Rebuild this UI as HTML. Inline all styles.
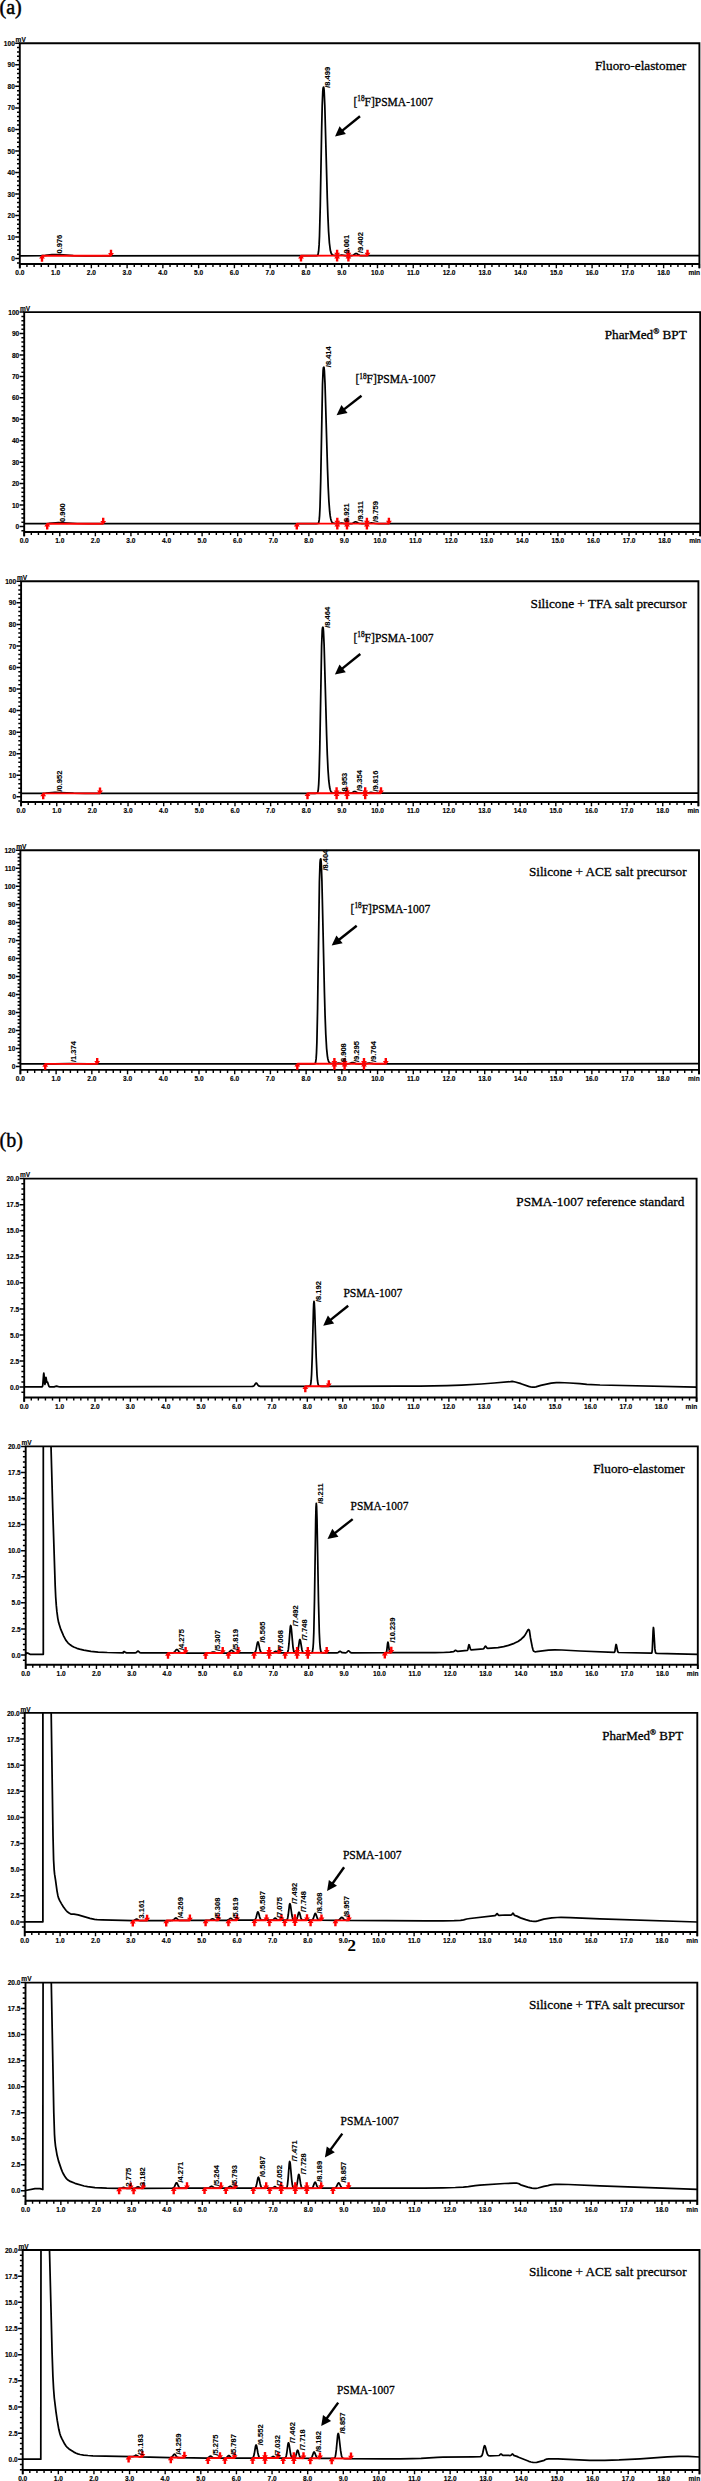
<!DOCTYPE html><html><head><meta charset="utf-8"><style>html,body{margin:0;padding:0;background:#fff;overflow:hidden} svg{display:block} .ax{font-family:'Liberation Sans', sans-serif;font-size:7.3px;font-weight:bold;stroke:#000;stroke-width:0.15px} .ti{font-family:'Liberation Serif', serif;stroke:#000;stroke-width:0.3px} .pl{font-family:'Liberation Sans', sans-serif;font-size:7.5px;font-weight:bold;stroke:#000;stroke-width:0.1px}</style></head><body>
<svg width="701" height="2481" viewBox="0 0 701 2481">
<rect width="701" height="2481" fill="#fff"/>
<defs><clipPath id="c1"><rect x="19.8" y="43.3" width="679.6" height="220.7"/></clipPath><clipPath id="c2"><rect x="24.2" y="312.1" width="676.0" height="219.89999999999998"/></clipPath><clipPath id="c3"><rect x="21.1" y="581.3" width="677.3" height="220.70000000000005"/></clipPath><clipPath id="c4"><rect x="20.4" y="850.3" width="678.6" height="219.60000000000014"/></clipPath><clipPath id="c5"><rect x="24.2" y="1178.6" width="672.4" height="218.9000000000001"/></clipPath><clipPath id="c6"><rect x="25.7" y="1446.4" width="672.0999999999999" height="218.29999999999995"/></clipPath><clipPath id="c7"><rect x="24.7" y="1712.9" width="672.5999999999999" height="219.0999999999999"/></clipPath><clipPath id="c8"><rect x="25.5" y="1982.6" width="671.8" height="218.0999999999999"/></clipPath><clipPath id="c9"><rect x="22.7" y="2250.0" width="676.8" height="220.0"/></clipPath></defs>
<text x="-0.5" y="13.8" font-family="'Liberation Serif', serif" font-size="20" stroke="#000" stroke-width="0.5">(a)</text>
<text x="-0.5" y="1147" font-family="'Liberation Serif', serif" font-size="20" stroke="#000" stroke-width="0.4">(b)</text>
<text x="347.5" y="1950.7" font-family="'Liberation Serif', serif" font-size="17" font-weight="bold">2</text>
<path d="M19.8,255.8 L41.3,255.7 L45.3,255.4 L52.0,254.7 L54.7,254.6 L59.7,254.7 L73.3,255.6 L84.8,255.8 L315.3,255.7 L316.8,255.6 L317.3,255.5 L317.7,255.1 L318.1,254.1 L318.6,251.2 L319.1,244.9 L319.5,236.0 L320.3,205.0 L321.6,132.2 L322.2,105.7 L322.8,91.2 L323.1,88.3 L323.3,87.5 L323.6,87.1 L323.9,88.2 L324.2,91.8 L324.8,105.5 L327.3,198.4 L327.9,216.1 L328.6,231.6 L329.4,243.0 L330.3,250.0 L330.8,252.1 L331.3,253.5 L331.8,254.3 L332.8,255.0 L334.3,255.4 L336.9,255.5 L338.9,255.5 L341.8,255.0 L345.3,255.6 L351.5,255.6 L352.4,255.5 L353.2,255.2 L355.3,253.7 L356.1,253.5 L357.0,253.7 L358.7,254.9 L359.7,255.4 L360.9,255.6 L362.8,255.6 L699.4,255.5" fill="none" stroke="#000" stroke-width="1.75" stroke-linejoin="round" clip-path="url(#c1)"/>
<path d="M19.80,268.30V43.30H699.40V268.30M19.80,264.00H699.40" fill="none" stroke="#000" stroke-width="1.9"/>
<text transform="translate(14.80,261.20) scale(0.9,1)" text-anchor="end" class="ax">0</text>
<text transform="translate(14.80,239.67) scale(0.9,1)" text-anchor="end" class="ax">10</text>
<text transform="translate(14.80,218.14) scale(0.9,1)" text-anchor="end" class="ax">20</text>
<text transform="translate(14.80,196.61) scale(0.9,1)" text-anchor="end" class="ax">30</text>
<text transform="translate(14.80,175.08) scale(0.9,1)" text-anchor="end" class="ax">40</text>
<text transform="translate(14.80,153.55) scale(0.9,1)" text-anchor="end" class="ax">50</text>
<text transform="translate(14.80,132.02) scale(0.9,1)" text-anchor="end" class="ax">60</text>
<text transform="translate(14.80,110.49) scale(0.9,1)" text-anchor="end" class="ax">70</text>
<text transform="translate(14.80,88.96) scale(0.9,1)" text-anchor="end" class="ax">80</text>
<text transform="translate(14.80,67.43) scale(0.9,1)" text-anchor="end" class="ax">90</text>
<text transform="translate(14.80,45.90) scale(0.9,1)" text-anchor="end" class="ax">100</text>
<path d="M17.00,262.91H19.80M15.20,258.60H19.80M17.00,254.29H19.80M17.00,249.99H19.80M17.00,245.68H19.80M17.00,241.38H19.80M15.20,237.07H19.80M17.00,232.76H19.80M17.00,228.46H19.80M17.00,224.15H19.80M17.00,219.85H19.80M15.20,215.54H19.80M17.00,211.23H19.80M17.00,206.93H19.80M17.00,202.62H19.80M17.00,198.32H19.80M15.20,194.01H19.80M17.00,189.70H19.80M17.00,185.40H19.80M17.00,181.09H19.80M17.00,176.79H19.80M15.20,172.48H19.80M17.00,168.17H19.80M17.00,163.87H19.80M17.00,159.56H19.80M17.00,155.26H19.80M15.20,150.95H19.80M17.00,146.64H19.80M17.00,142.34H19.80M17.00,138.03H19.80M17.00,133.73H19.80M15.20,129.42H19.80M17.00,125.11H19.80M17.00,120.81H19.80M17.00,116.50H19.80M17.00,112.20H19.80M15.20,107.89H19.80M17.00,103.58H19.80M17.00,99.28H19.80M17.00,94.97H19.80M17.00,90.67H19.80M15.20,86.36H19.80M17.00,82.05H19.80M17.00,77.75H19.80M17.00,73.44H19.80M17.00,69.14H19.80M15.20,64.83H19.80M17.00,60.52H19.80M17.00,56.22H19.80M17.00,51.91H19.80M17.00,47.61H19.80M15.20,43.30H19.80" stroke="#000" stroke-width="1.5"/>
<text transform="translate(19.80,275.20) scale(0.9,1)" text-anchor="middle" class="ax">0.0</text>
<text transform="translate(55.57,275.20) scale(0.9,1)" text-anchor="middle" class="ax">1.0</text>
<text transform="translate(91.34,275.20) scale(0.9,1)" text-anchor="middle" class="ax">2.0</text>
<text transform="translate(127.11,275.20) scale(0.9,1)" text-anchor="middle" class="ax">3.0</text>
<text transform="translate(162.87,275.20) scale(0.9,1)" text-anchor="middle" class="ax">4.0</text>
<text transform="translate(198.64,275.20) scale(0.9,1)" text-anchor="middle" class="ax">5.0</text>
<text transform="translate(234.41,275.20) scale(0.9,1)" text-anchor="middle" class="ax">6.0</text>
<text transform="translate(270.18,275.20) scale(0.9,1)" text-anchor="middle" class="ax">7.0</text>
<text transform="translate(305.95,275.20) scale(0.9,1)" text-anchor="middle" class="ax">8.0</text>
<text transform="translate(341.72,275.20) scale(0.9,1)" text-anchor="middle" class="ax">9.0</text>
<text transform="translate(377.48,275.20) scale(0.9,1)" text-anchor="middle" class="ax">10.0</text>
<text transform="translate(413.25,275.20) scale(0.9,1)" text-anchor="middle" class="ax">11.0</text>
<text transform="translate(449.02,275.20) scale(0.9,1)" text-anchor="middle" class="ax">12.0</text>
<text transform="translate(484.79,275.20) scale(0.9,1)" text-anchor="middle" class="ax">13.0</text>
<text transform="translate(520.56,275.20) scale(0.9,1)" text-anchor="middle" class="ax">14.0</text>
<text transform="translate(556.33,275.20) scale(0.9,1)" text-anchor="middle" class="ax">15.0</text>
<text transform="translate(592.09,275.20) scale(0.9,1)" text-anchor="middle" class="ax">16.0</text>
<text transform="translate(627.86,275.20) scale(0.9,1)" text-anchor="middle" class="ax">17.0</text>
<text transform="translate(663.63,275.20) scale(0.9,1)" text-anchor="middle" class="ax">18.0</text>
<path d="M19.80,264.00V268.30M26.95,264.00V267.00M34.11,264.00V267.00M41.26,264.00V267.00M48.41,264.00V267.00M55.57,264.00V268.30M62.72,264.00V267.00M69.88,264.00V267.00M77.03,264.00V267.00M84.18,264.00V267.00M91.34,264.00V268.30M98.49,264.00V267.00M105.64,264.00V267.00M112.80,264.00V267.00M119.95,264.00V267.00M127.11,264.00V268.30M134.26,264.00V267.00M141.41,264.00V267.00M148.57,264.00V267.00M155.72,264.00V267.00M162.87,264.00V268.30M170.03,264.00V267.00M177.18,264.00V267.00M184.33,264.00V267.00M191.49,264.00V267.00M198.64,264.00V268.30M205.80,264.00V267.00M212.95,264.00V267.00M220.10,264.00V267.00M227.26,264.00V267.00M234.41,264.00V268.30M241.56,264.00V267.00M248.72,264.00V267.00M255.87,264.00V267.00M263.03,264.00V267.00M270.18,264.00V268.30M277.33,264.00V267.00M284.49,264.00V267.00M291.64,264.00V267.00M298.79,264.00V267.00M305.95,264.00V268.30M313.10,264.00V267.00M320.25,264.00V267.00M327.41,264.00V267.00M334.56,264.00V267.00M341.72,264.00V268.30M348.87,264.00V267.00M356.02,264.00V267.00M363.18,264.00V267.00M370.33,264.00V267.00M377.48,264.00V268.30M384.64,264.00V267.00M391.79,264.00V267.00M398.95,264.00V267.00M406.10,264.00V267.00M413.25,264.00V268.30M420.41,264.00V267.00M427.56,264.00V267.00M434.71,264.00V267.00M441.87,264.00V267.00M449.02,264.00V268.30M456.17,264.00V267.00M463.33,264.00V267.00M470.48,264.00V267.00M477.64,264.00V267.00M484.79,264.00V268.30M491.94,264.00V267.00M499.10,264.00V267.00M506.25,264.00V267.00M513.40,264.00V267.00M520.56,264.00V268.30M527.71,264.00V267.00M534.87,264.00V267.00M542.02,264.00V267.00M549.17,264.00V267.00M556.33,264.00V268.30M563.48,264.00V267.00M570.63,264.00V267.00M577.79,264.00V267.00M584.94,264.00V267.00M592.09,264.00V268.30M599.25,264.00V267.00M606.40,264.00V267.00M613.56,264.00V267.00M620.71,264.00V267.00M627.86,264.00V268.30M635.02,264.00V267.00M642.17,264.00V267.00M649.32,264.00V267.00M656.48,264.00V267.00M663.63,264.00V268.30M670.79,264.00V267.00M677.94,264.00V267.00M685.09,264.00V267.00M692.25,264.00V267.00M699.40,264.00V268.30" stroke="#000" stroke-width="1.4"/>
<text transform="translate(688.40,275.20) scale(0.9,1)" text-anchor="start" class="ax">min</text>
<text transform="translate(15.60,42.10) scale(0.9,1)" text-anchor="start" class="ax">mV</text>
<path d="M42.00,255.79 L111.00,255.76" fill="none" stroke="#f00" stroke-width="1.9"/>
<path d="M39.10,258.59L44.90,258.59L42.60,255.19L41.40,255.19Z M40.80,261.69h2.4v-3.3h-2.4ZM108.10,252.96L113.90,252.96L111.60,256.36L110.40,256.36Z M109.80,249.86h2.4v3.3h-2.4Z" fill="#f00"/>
<path d="M301.00,255.68 L337.10,255.66 L348.40,255.65 L367.50,255.65" fill="none" stroke="#f00" stroke-width="1.9"/>
<path d="M298.10,258.48L303.90,258.48L301.60,255.08L300.40,255.08Z M299.80,261.58h2.4v-3.3h-2.4ZM334.20,252.86L340.00,252.86L337.70,256.26L336.50,256.26Z M335.90,249.76h2.4v3.3h-2.4ZM334.20,258.46L340.00,258.46L337.70,255.06L336.50,255.06Z M335.90,261.56h2.4v-3.3h-2.4ZM345.50,252.85L351.30,252.85L349.00,256.25L347.80,256.25Z M347.20,249.75h2.4v3.3h-2.4ZM345.50,258.45L351.30,258.45L349.00,255.05L347.80,255.05Z M347.20,261.55h2.4v-3.3h-2.4ZM364.60,252.85L370.40,252.85L368.10,256.25L366.90,256.25Z M366.30,249.75h2.4v3.3h-2.4Z" fill="#f00"/>
<text transform="translate(61.60,253.50) rotate(-90)" class="pl">0.976</text>
<text transform="translate(330.40,87.80) rotate(-90)" class="pl">/8.499</text>
<text transform="translate(348.70,253.60) rotate(-90)" class="pl">9.001</text>
<text transform="translate(363.00,253.00) rotate(-90)" class="pl">/9.402</text>
<text x="353.5" y="105.5" class="ti" font-size="12" textLength="79.5" lengthAdjust="spacingAndGlyphs">[<tspan font-size="7.5" dy="-4.5">18</tspan><tspan dy="4.5">F]PSMA-1007</tspan></text>
<path d="M360.00,116.20L341.99,130.83" stroke="#000" stroke-width="2.4"/><path d="M335.00,136.50L339.61,126.31L345.91,134.08Z" fill="#000"/>
<text x="595.0" y="70.4" class="ti" font-size="13.3" textLength="91.3" lengthAdjust="spacingAndGlyphs">Fluoro-elastomer</text>
<path d="M24.2,523.7 L44.7,523.6 L48.7,523.4 L55.7,522.8 L58.4,522.7 L63.4,522.8 L77.2,523.5 L88.7,523.7 L316.2,523.6 L318.0,523.5 L318.4,523.1 L318.7,522.5 L319.2,519.9 L319.6,515.3 L320.0,507.0 L320.7,481.1 L322.5,385.0 L323.1,370.4 L323.4,367.8 L323.8,367.1 L323.9,367.1 L324.1,368.0 L324.4,371.2 L325.0,383.5 L327.5,468.2 L328.2,487.2 L328.9,501.3 L329.7,511.7 L330.2,515.9 L330.7,518.7 L331.2,520.5 L331.7,521.7 L332.2,522.4 L333.2,523.0 L334.7,523.4 L337.8,523.5 L339.0,523.4 L341.8,523.0 L345.2,523.6 L351.0,523.6 L352.7,523.3 L354.8,522.0 L355.6,521.8 L356.5,522.0 L358.2,523.0 L359.2,523.4 L360.4,523.5 L362.2,523.6 L368.0,523.5 L371.5,522.8 L375.5,523.5 L378.7,523.6 L700.2,523.5" fill="none" stroke="#000" stroke-width="1.75" stroke-linejoin="round" clip-path="url(#c2)"/>
<path d="M24.20,536.30V312.10H700.20V536.30M24.20,532.00H700.20" fill="none" stroke="#000" stroke-width="1.9"/>
<text transform="translate(19.20,529.10) scale(0.9,1)" text-anchor="end" class="ax">0</text>
<text transform="translate(19.20,507.66) scale(0.9,1)" text-anchor="end" class="ax">10</text>
<text transform="translate(19.20,486.22) scale(0.9,1)" text-anchor="end" class="ax">20</text>
<text transform="translate(19.20,464.78) scale(0.9,1)" text-anchor="end" class="ax">30</text>
<text transform="translate(19.20,443.34) scale(0.9,1)" text-anchor="end" class="ax">40</text>
<text transform="translate(19.20,421.90) scale(0.9,1)" text-anchor="end" class="ax">50</text>
<text transform="translate(19.20,400.46) scale(0.9,1)" text-anchor="end" class="ax">60</text>
<text transform="translate(19.20,379.02) scale(0.9,1)" text-anchor="end" class="ax">70</text>
<text transform="translate(19.20,357.58) scale(0.9,1)" text-anchor="end" class="ax">80</text>
<text transform="translate(19.20,336.14) scale(0.9,1)" text-anchor="end" class="ax">90</text>
<text transform="translate(19.20,314.70) scale(0.9,1)" text-anchor="end" class="ax">100</text>
<path d="M21.40,530.79H24.20M19.60,526.50H24.20M21.40,522.21H24.20M21.40,517.92H24.20M21.40,513.64H24.20M21.40,509.35H24.20M19.60,505.06H24.20M21.40,500.77H24.20M21.40,496.48H24.20M21.40,492.20H24.20M21.40,487.91H24.20M19.60,483.62H24.20M21.40,479.33H24.20M21.40,475.04H24.20M21.40,470.76H24.20M21.40,466.47H24.20M19.60,462.18H24.20M21.40,457.89H24.20M21.40,453.60H24.20M21.40,449.32H24.20M21.40,445.03H24.20M19.60,440.74H24.20M21.40,436.45H24.20M21.40,432.16H24.20M21.40,427.88H24.20M21.40,423.59H24.20M19.60,419.30H24.20M21.40,415.01H24.20M21.40,410.72H24.20M21.40,406.44H24.20M21.40,402.15H24.20M19.60,397.86H24.20M21.40,393.57H24.20M21.40,389.28H24.20M21.40,385.00H24.20M21.40,380.71H24.20M19.60,376.42H24.20M21.40,372.13H24.20M21.40,367.84H24.20M21.40,363.56H24.20M21.40,359.27H24.20M19.60,354.98H24.20M21.40,350.69H24.20M21.40,346.40H24.20M21.40,342.12H24.20M21.40,337.83H24.20M19.60,333.54H24.20M21.40,329.25H24.20M21.40,324.96H24.20M21.40,320.68H24.20M21.40,316.39H24.20M19.60,312.10H24.20" stroke="#000" stroke-width="1.5"/>
<text transform="translate(24.20,543.20) scale(0.9,1)" text-anchor="middle" class="ax">0.0</text>
<text transform="translate(59.78,543.20) scale(0.9,1)" text-anchor="middle" class="ax">1.0</text>
<text transform="translate(95.36,543.20) scale(0.9,1)" text-anchor="middle" class="ax">2.0</text>
<text transform="translate(130.94,543.20) scale(0.9,1)" text-anchor="middle" class="ax">3.0</text>
<text transform="translate(166.52,543.20) scale(0.9,1)" text-anchor="middle" class="ax">4.0</text>
<text transform="translate(202.09,543.20) scale(0.9,1)" text-anchor="middle" class="ax">5.0</text>
<text transform="translate(237.67,543.20) scale(0.9,1)" text-anchor="middle" class="ax">6.0</text>
<text transform="translate(273.25,543.20) scale(0.9,1)" text-anchor="middle" class="ax">7.0</text>
<text transform="translate(308.83,543.20) scale(0.9,1)" text-anchor="middle" class="ax">8.0</text>
<text transform="translate(344.41,543.20) scale(0.9,1)" text-anchor="middle" class="ax">9.0</text>
<text transform="translate(379.99,543.20) scale(0.9,1)" text-anchor="middle" class="ax">10.0</text>
<text transform="translate(415.57,543.20) scale(0.9,1)" text-anchor="middle" class="ax">11.0</text>
<text transform="translate(451.15,543.20) scale(0.9,1)" text-anchor="middle" class="ax">12.0</text>
<text transform="translate(486.73,543.20) scale(0.9,1)" text-anchor="middle" class="ax">13.0</text>
<text transform="translate(522.31,543.20) scale(0.9,1)" text-anchor="middle" class="ax">14.0</text>
<text transform="translate(557.88,543.20) scale(0.9,1)" text-anchor="middle" class="ax">15.0</text>
<text transform="translate(593.46,543.20) scale(0.9,1)" text-anchor="middle" class="ax">16.0</text>
<text transform="translate(629.04,543.20) scale(0.9,1)" text-anchor="middle" class="ax">17.0</text>
<text transform="translate(664.62,543.20) scale(0.9,1)" text-anchor="middle" class="ax">18.0</text>
<path d="M24.20,532.00V536.30M31.32,532.00V535.00M38.43,532.00V535.00M45.55,532.00V535.00M52.66,532.00V535.00M59.78,532.00V536.30M66.89,532.00V535.00M74.01,532.00V535.00M81.13,532.00V535.00M88.24,532.00V535.00M95.36,532.00V536.30M102.47,532.00V535.00M109.59,532.00V535.00M116.71,532.00V535.00M123.82,532.00V535.00M130.94,532.00V536.30M138.05,532.00V535.00M145.17,532.00V535.00M152.28,532.00V535.00M159.40,532.00V535.00M166.52,532.00V536.30M173.63,532.00V535.00M180.75,532.00V535.00M187.86,532.00V535.00M194.98,532.00V535.00M202.09,532.00V536.30M209.21,532.00V535.00M216.33,532.00V535.00M223.44,532.00V535.00M230.56,532.00V535.00M237.67,532.00V536.30M244.79,532.00V535.00M251.91,532.00V535.00M259.02,532.00V535.00M266.14,532.00V535.00M273.25,532.00V536.30M280.37,532.00V535.00M287.48,532.00V535.00M294.60,532.00V535.00M301.72,532.00V535.00M308.83,532.00V536.30M315.95,532.00V535.00M323.06,532.00V535.00M330.18,532.00V535.00M337.29,532.00V535.00M344.41,532.00V536.30M351.53,532.00V535.00M358.64,532.00V535.00M365.76,532.00V535.00M372.87,532.00V535.00M379.99,532.00V536.30M387.11,532.00V535.00M394.22,532.00V535.00M401.34,532.00V535.00M408.45,532.00V535.00M415.57,532.00V536.30M422.68,532.00V535.00M429.80,532.00V535.00M436.92,532.00V535.00M444.03,532.00V535.00M451.15,532.00V536.30M458.26,532.00V535.00M465.38,532.00V535.00M472.49,532.00V535.00M479.61,532.00V535.00M486.73,532.00V536.30M493.84,532.00V535.00M500.96,532.00V535.00M508.07,532.00V535.00M515.19,532.00V535.00M522.31,532.00V536.30M529.42,532.00V535.00M536.54,532.00V535.00M543.65,532.00V535.00M550.77,532.00V535.00M557.88,532.00V536.30M565.00,532.00V535.00M572.12,532.00V535.00M579.23,532.00V535.00M586.35,532.00V535.00M593.46,532.00V536.30M600.58,532.00V535.00M607.69,532.00V535.00M614.81,532.00V535.00M621.93,532.00V535.00M629.04,532.00V536.30M636.16,532.00V535.00M643.27,532.00V535.00M650.39,532.00V535.00M657.51,532.00V535.00M664.62,532.00V536.30M671.74,532.00V535.00M678.85,532.00V535.00M685.97,532.00V535.00M693.08,532.00V535.00M700.20,532.00V536.30" stroke="#000" stroke-width="1.4"/>
<text transform="translate(689.20,543.20) scale(0.9,1)" text-anchor="start" class="ax">min</text>
<text transform="translate(20.00,310.90) scale(0.9,1)" text-anchor="start" class="ax">mV</text>
<path d="M47.20,523.69 L103.20,523.68" fill="none" stroke="#f00" stroke-width="1.9"/>
<path d="M44.30,526.49L50.10,526.49L47.80,523.09L46.60,523.09Z M46.00,529.59h2.4v-3.3h-2.4ZM100.30,520.88L106.10,520.88L103.80,524.28L102.60,524.28Z M102.00,517.78h2.4v3.3h-2.4Z" fill="#f00"/>
<path d="M296.80,523.62 L337.30,523.61 L347.00,523.60 L366.90,523.60 L388.90,523.59" fill="none" stroke="#f00" stroke-width="1.9"/>
<path d="M293.90,526.42L299.70,526.42L297.40,523.02L296.20,523.02Z M295.60,529.52h2.4v-3.3h-2.4ZM334.40,520.81L340.20,520.81L337.90,524.21L336.70,524.21Z M336.10,517.71h2.4v3.3h-2.4ZM334.40,526.41L340.20,526.41L337.90,523.01L336.70,523.01Z M336.10,529.51h2.4v-3.3h-2.4ZM344.10,520.80L349.90,520.80L347.60,524.20L346.40,524.20Z M345.80,517.70h2.4v3.3h-2.4ZM344.10,526.40L349.90,526.40L347.60,523.00L346.40,523.00Z M345.80,529.50h2.4v-3.3h-2.4ZM364.00,520.80L369.80,520.80L367.50,524.20L366.30,524.20Z M365.70,517.70h2.4v3.3h-2.4ZM364.00,526.40L369.80,526.40L367.50,523.00L366.30,523.00Z M365.70,529.50h2.4v-3.3h-2.4ZM386.00,520.79L391.80,520.79L389.50,524.19L388.30,524.19Z M387.70,517.69h2.4v3.3h-2.4Z" fill="#f00"/>
<text transform="translate(65.30,522.00) rotate(-90)" class="pl">0.960</text>
<text transform="translate(330.60,367.20) rotate(-90)" class="pl">/8.414</text>
<text transform="translate(348.60,522.00) rotate(-90)" class="pl">8.921</text>
<text transform="translate(362.50,521.50) rotate(-90)" class="pl">/9.311</text>
<text transform="translate(378.40,522.00) rotate(-90)" class="pl">/9.759</text>
<text x="355.5" y="383.2" class="ti" font-size="12" textLength="80.0" lengthAdjust="spacingAndGlyphs">[<tspan font-size="7.5" dy="-4.5">18</tspan><tspan dy="4.5">F]PSMA-1007</tspan></text>
<path d="M361.50,395.80L343.70,409.67" stroke="#000" stroke-width="2.4"/><path d="M336.60,415.20L341.42,405.11L347.56,413.00Z" fill="#000"/>
<text x="604.7" y="338.7" class="ti" font-size="13.3" textLength="82.1" lengthAdjust="spacingAndGlyphs">PharMed<tspan font-size="8" dy="-5">®</tspan><tspan dy="5"> BPT</tspan></text>
<path d="M21.1,793.4 L41.6,793.3 L45.6,793.1 L52.3,792.5 L55.0,792.4 L60.0,792.5 L73.6,793.2 L85.1,793.4 L315.1,793.3 L316.6,793.2 L317.1,793.1 L317.5,792.7 L317.8,792.0 L318.3,789.3 L318.7,784.4 L319.1,775.7 L319.8,748.1 L321.6,646.2 L322.2,630.7 L322.5,628.0 L322.9,627.2 L323.0,627.3 L323.2,628.2 L323.5,631.6 L324.1,644.6 L326.6,734.5 L327.3,754.7 L328.0,769.6 L328.8,780.7 L329.6,787.0 L330.1,789.3 L330.6,790.8 L331.1,791.7 L331.6,792.3 L332.1,792.6 L333.6,793.0 L335.6,793.1 L337.5,793.1 L340.3,792.6 L343.8,793.2 L350.0,793.2 L351.7,792.9 L353.8,791.7 L354.6,791.5 L355.5,791.7 L357.2,792.6 L358.2,793.0 L359.3,793.2 L361.1,793.2 L367.5,793.2 L371.0,792.4 L374.9,793.1 L378.1,793.2 L698.4,793.1" fill="none" stroke="#000" stroke-width="1.75" stroke-linejoin="round" clip-path="url(#c3)"/>
<path d="M21.10,806.30V581.30H698.40V806.30M21.10,802.00H698.40" fill="none" stroke="#000" stroke-width="1.9"/>
<text transform="translate(16.10,799.40) scale(0.9,1)" text-anchor="end" class="ax">0</text>
<text transform="translate(16.10,777.85) scale(0.9,1)" text-anchor="end" class="ax">10</text>
<text transform="translate(16.10,756.30) scale(0.9,1)" text-anchor="end" class="ax">20</text>
<text transform="translate(16.10,734.75) scale(0.9,1)" text-anchor="end" class="ax">30</text>
<text transform="translate(16.10,713.20) scale(0.9,1)" text-anchor="end" class="ax">40</text>
<text transform="translate(16.10,691.65) scale(0.9,1)" text-anchor="end" class="ax">50</text>
<text transform="translate(16.10,670.10) scale(0.9,1)" text-anchor="end" class="ax">60</text>
<text transform="translate(16.10,648.55) scale(0.9,1)" text-anchor="end" class="ax">70</text>
<text transform="translate(16.10,627.00) scale(0.9,1)" text-anchor="end" class="ax">80</text>
<text transform="translate(16.10,605.45) scale(0.9,1)" text-anchor="end" class="ax">90</text>
<text transform="translate(16.10,583.90) scale(0.9,1)" text-anchor="end" class="ax">100</text>
<path d="M18.30,801.11H21.10M16.50,796.80H21.10M18.30,792.49H21.10M18.30,788.18H21.10M18.30,783.87H21.10M18.30,779.56H21.10M16.50,775.25H21.10M18.30,770.94H21.10M18.30,766.63H21.10M18.30,762.32H21.10M18.30,758.01H21.10M16.50,753.70H21.10M18.30,749.39H21.10M18.30,745.08H21.10M18.30,740.77H21.10M18.30,736.46H21.10M16.50,732.15H21.10M18.30,727.84H21.10M18.30,723.53H21.10M18.30,719.22H21.10M18.30,714.91H21.10M16.50,710.60H21.10M18.30,706.29H21.10M18.30,701.98H21.10M18.30,697.67H21.10M18.30,693.36H21.10M16.50,689.05H21.10M18.30,684.74H21.10M18.30,680.43H21.10M18.30,676.12H21.10M18.30,671.81H21.10M16.50,667.50H21.10M18.30,663.19H21.10M18.30,658.88H21.10M18.30,654.57H21.10M18.30,650.26H21.10M16.50,645.95H21.10M18.30,641.64H21.10M18.30,637.33H21.10M18.30,633.02H21.10M18.30,628.71H21.10M16.50,624.40H21.10M18.30,620.09H21.10M18.30,615.78H21.10M18.30,611.47H21.10M18.30,607.16H21.10M16.50,602.85H21.10M18.30,598.54H21.10M18.30,594.23H21.10M18.30,589.92H21.10M18.30,585.61H21.10M16.50,581.30H21.10" stroke="#000" stroke-width="1.5"/>
<text transform="translate(21.10,813.20) scale(0.9,1)" text-anchor="middle" class="ax">0.0</text>
<text transform="translate(56.75,813.20) scale(0.9,1)" text-anchor="middle" class="ax">1.0</text>
<text transform="translate(92.39,813.20) scale(0.9,1)" text-anchor="middle" class="ax">2.0</text>
<text transform="translate(128.04,813.20) scale(0.9,1)" text-anchor="middle" class="ax">3.0</text>
<text transform="translate(163.69,813.20) scale(0.9,1)" text-anchor="middle" class="ax">4.0</text>
<text transform="translate(199.34,813.20) scale(0.9,1)" text-anchor="middle" class="ax">5.0</text>
<text transform="translate(234.98,813.20) scale(0.9,1)" text-anchor="middle" class="ax">6.0</text>
<text transform="translate(270.63,813.20) scale(0.9,1)" text-anchor="middle" class="ax">7.0</text>
<text transform="translate(306.28,813.20) scale(0.9,1)" text-anchor="middle" class="ax">8.0</text>
<text transform="translate(341.93,813.20) scale(0.9,1)" text-anchor="middle" class="ax">9.0</text>
<text transform="translate(377.57,813.20) scale(0.9,1)" text-anchor="middle" class="ax">10.0</text>
<text transform="translate(413.22,813.20) scale(0.9,1)" text-anchor="middle" class="ax">11.0</text>
<text transform="translate(448.87,813.20) scale(0.9,1)" text-anchor="middle" class="ax">12.0</text>
<text transform="translate(484.52,813.20) scale(0.9,1)" text-anchor="middle" class="ax">13.0</text>
<text transform="translate(520.16,813.20) scale(0.9,1)" text-anchor="middle" class="ax">14.0</text>
<text transform="translate(555.81,813.20) scale(0.9,1)" text-anchor="middle" class="ax">15.0</text>
<text transform="translate(591.46,813.20) scale(0.9,1)" text-anchor="middle" class="ax">16.0</text>
<text transform="translate(627.11,813.20) scale(0.9,1)" text-anchor="middle" class="ax">17.0</text>
<text transform="translate(662.75,813.20) scale(0.9,1)" text-anchor="middle" class="ax">18.0</text>
<path d="M21.10,802.00V806.30M28.23,802.00V805.00M35.36,802.00V805.00M42.49,802.00V805.00M49.62,802.00V805.00M56.75,802.00V806.30M63.88,802.00V805.00M71.01,802.00V805.00M78.14,802.00V805.00M85.27,802.00V805.00M92.39,802.00V806.30M99.52,802.00V805.00M106.65,802.00V805.00M113.78,802.00V805.00M120.91,802.00V805.00M128.04,802.00V806.30M135.17,802.00V805.00M142.30,802.00V805.00M149.43,802.00V805.00M156.56,802.00V805.00M163.69,802.00V806.30M170.82,802.00V805.00M177.95,802.00V805.00M185.08,802.00V805.00M192.21,802.00V805.00M199.34,802.00V806.30M206.47,802.00V805.00M213.60,802.00V805.00M220.73,802.00V805.00M227.85,802.00V805.00M234.98,802.00V806.30M242.11,802.00V805.00M249.24,802.00V805.00M256.37,802.00V805.00M263.50,802.00V805.00M270.63,802.00V806.30M277.76,802.00V805.00M284.89,802.00V805.00M292.02,802.00V805.00M299.15,802.00V805.00M306.28,802.00V806.30M313.41,802.00V805.00M320.54,802.00V805.00M327.67,802.00V805.00M334.80,802.00V805.00M341.93,802.00V806.30M349.06,802.00V805.00M356.19,802.00V805.00M363.31,802.00V805.00M370.44,802.00V805.00M377.57,802.00V806.30M384.70,802.00V805.00M391.83,802.00V805.00M398.96,802.00V805.00M406.09,802.00V805.00M413.22,802.00V806.30M420.35,802.00V805.00M427.48,802.00V805.00M434.61,802.00V805.00M441.74,802.00V805.00M448.87,802.00V806.30M456.00,802.00V805.00M463.13,802.00V805.00M470.26,802.00V805.00M477.39,802.00V805.00M484.52,802.00V806.30M491.65,802.00V805.00M498.77,802.00V805.00M505.90,802.00V805.00M513.03,802.00V805.00M520.16,802.00V806.30M527.29,802.00V805.00M534.42,802.00V805.00M541.55,802.00V805.00M548.68,802.00V805.00M555.81,802.00V806.30M562.94,802.00V805.00M570.07,802.00V805.00M577.20,802.00V805.00M584.33,802.00V805.00M591.46,802.00V806.30M598.59,802.00V805.00M605.72,802.00V805.00M612.85,802.00V805.00M619.98,802.00V805.00M627.11,802.00V806.30M634.23,802.00V805.00M641.36,802.00V805.00M648.49,802.00V805.00M655.62,802.00V805.00M662.75,802.00V806.30M669.88,802.00V805.00M677.01,802.00V805.00M684.14,802.00V805.00M691.27,802.00V805.00M698.40,802.00V806.30" stroke="#000" stroke-width="1.4"/>
<text transform="translate(687.40,813.20) scale(0.9,1)" text-anchor="start" class="ax">min</text>
<text transform="translate(16.90,580.10) scale(0.9,1)" text-anchor="start" class="ax">mV</text>
<path d="M43.20,793.39 L100.00,793.37" fill="none" stroke="#f00" stroke-width="1.9"/>
<path d="M40.30,796.19L46.10,796.19L43.80,792.79L42.60,792.79Z M42.00,799.29h2.4v-3.3h-2.4ZM97.10,790.57L102.90,790.57L100.60,793.97L99.40,793.97Z M98.80,787.47h2.4v3.3h-2.4Z" fill="#f00"/>
<path d="M307.50,793.27 L336.60,793.26 L347.00,793.26 L365.20,793.25 L381.00,793.24" fill="none" stroke="#f00" stroke-width="1.9"/>
<path d="M304.60,796.07L310.40,796.07L308.10,792.67L306.90,792.67Z M306.30,799.17h2.4v-3.3h-2.4ZM333.70,790.46L339.50,790.46L337.20,793.86L336.00,793.86Z M335.40,787.36h2.4v3.3h-2.4ZM333.70,796.06L339.50,796.06L337.20,792.66L336.00,792.66Z M335.40,799.16h2.4v-3.3h-2.4ZM344.10,790.46L349.90,790.46L347.60,793.86L346.40,793.86Z M345.80,787.36h2.4v3.3h-2.4ZM344.10,796.06L349.90,796.06L347.60,792.66L346.40,792.66Z M345.80,799.16h2.4v-3.3h-2.4ZM362.30,790.45L368.10,790.45L365.80,793.85L364.60,793.85Z M364.00,787.35h2.4v3.3h-2.4ZM362.30,796.05L368.10,796.05L365.80,792.65L364.60,792.65Z M364.00,799.15h2.4v-3.3h-2.4ZM378.10,790.44L383.90,790.44L381.60,793.84L380.40,793.84Z M379.80,787.34h2.4v3.3h-2.4Z" fill="#f00"/>
<text transform="translate(61.90,791.50) rotate(-90)" class="pl">/0.952</text>
<text transform="translate(329.70,627.80) rotate(-90)" class="pl">/8.464</text>
<text transform="translate(347.20,791.50) rotate(-90)" class="pl">8.953</text>
<text transform="translate(361.50,791.00) rotate(-90)" class="pl">/9.354</text>
<text transform="translate(377.90,791.50) rotate(-90)" class="pl">/9.816</text>
<text x="353.5" y="641.8" class="ti" font-size="12" textLength="80.0" lengthAdjust="spacingAndGlyphs">[<tspan font-size="7.5" dy="-4.5">18</tspan><tspan dy="4.5">F]PSMA-1007</tspan></text>
<path d="M360.30,654.00L341.89,668.93" stroke="#000" stroke-width="2.4"/><path d="M334.90,674.60L339.52,664.42L345.82,672.18Z" fill="#000"/>
<text x="530.5" y="608.0" class="ti" font-size="13.3" textLength="156.1" lengthAdjust="spacingAndGlyphs">Silicone + TFA salt precursor</text>
<path d="M20.4,1063.9 L54.9,1063.9 L69.4,1063.5 L88.4,1063.8 L101.4,1063.9 L312.9,1063.8 L314.4,1063.8 L314.9,1063.6 L315.3,1063.1 L315.6,1062.3 L316.1,1058.9 L316.5,1052.9 L316.9,1042.1 L317.6,1008.1 L319.4,882.3 L320.0,863.1 L320.3,859.8 L320.7,858.8 L320.8,858.9 L321.0,860.0 L321.3,864.2 L321.9,880.3 L324.4,991.2 L325.1,1016.2 L325.8,1034.5 L326.6,1048.3 L327.4,1056.1 L327.9,1059.0 L328.4,1060.8 L328.9,1061.9 L329.4,1062.6 L329.9,1063.0 L330.9,1063.4 L333.2,1063.6 L335.6,1063.6 L338.6,1063.2 L341.7,1063.7 L344.9,1063.8 L349.0,1063.7 L350.0,1063.4 L351.6,1062.7 L352.4,1062.6 L353.3,1062.7 L356.0,1063.6 L358.9,1063.8 L365.7,1063.7 L369.2,1063.0 L373.2,1063.7 L376.4,1063.8 L699.0,1063.7" fill="none" stroke="#000" stroke-width="1.75" stroke-linejoin="round" clip-path="url(#c4)"/>
<path d="M20.40,1074.20V850.30H699.00V1074.20M20.40,1069.90H699.00" fill="none" stroke="#000" stroke-width="1.9"/>
<text transform="translate(15.40,1069.20) scale(0.9,1)" text-anchor="end" class="ax">0</text>
<text transform="translate(15.40,1051.17) scale(0.9,1)" text-anchor="end" class="ax">10</text>
<text transform="translate(15.40,1033.15) scale(0.9,1)" text-anchor="end" class="ax">20</text>
<text transform="translate(15.40,1015.12) scale(0.9,1)" text-anchor="end" class="ax">30</text>
<text transform="translate(15.40,997.10) scale(0.9,1)" text-anchor="end" class="ax">40</text>
<text transform="translate(15.40,979.07) scale(0.9,1)" text-anchor="end" class="ax">50</text>
<text transform="translate(15.40,961.05) scale(0.9,1)" text-anchor="end" class="ax">60</text>
<text transform="translate(15.40,943.02) scale(0.9,1)" text-anchor="end" class="ax">70</text>
<text transform="translate(15.40,925.00) scale(0.9,1)" text-anchor="end" class="ax">80</text>
<text transform="translate(15.40,906.98) scale(0.9,1)" text-anchor="end" class="ax">90</text>
<text transform="translate(15.40,888.95) scale(0.9,1)" text-anchor="end" class="ax">100</text>
<text transform="translate(15.40,870.92) scale(0.9,1)" text-anchor="end" class="ax">110</text>
<text transform="translate(15.40,852.90) scale(0.9,1)" text-anchor="end" class="ax">120</text>
<path d="M15.80,1066.60H20.40M17.60,1062.99H20.40M17.60,1059.39H20.40M17.60,1055.78H20.40M17.60,1052.18H20.40M15.80,1048.57H20.40M17.60,1044.97H20.40M17.60,1041.37H20.40M17.60,1037.76H20.40M17.60,1034.15H20.40M15.80,1030.55H20.40M17.60,1026.94H20.40M17.60,1023.34H20.40M17.60,1019.73H20.40M17.60,1016.13H20.40M15.80,1012.52H20.40M17.60,1008.92H20.40M17.60,1005.31H20.40M17.60,1001.71H20.40M17.60,998.10H20.40M15.80,994.50H20.40M17.60,990.89H20.40M17.60,987.29H20.40M17.60,983.68H20.40M17.60,980.08H20.40M15.80,976.47H20.40M17.60,972.87H20.40M17.60,969.26H20.40M17.60,965.66H20.40M17.60,962.05H20.40M15.80,958.45H20.40M17.60,954.84H20.40M17.60,951.24H20.40M17.60,947.63H20.40M17.60,944.03H20.40M15.80,940.42H20.40M17.60,936.82H20.40M17.60,933.21H20.40M17.60,929.61H20.40M17.60,926.00H20.40M15.80,922.40H20.40M17.60,918.79H20.40M17.60,915.19H20.40M17.60,911.58H20.40M17.60,907.98H20.40M15.80,904.38H20.40M17.60,900.77H20.40M17.60,897.16H20.40M17.60,893.56H20.40M17.60,889.95H20.40M15.80,886.35H20.40M17.60,882.74H20.40M17.60,879.14H20.40M17.60,875.53H20.40M17.60,871.93H20.40M15.80,868.32H20.40M17.60,864.72H20.40M17.60,861.12H20.40M17.60,857.51H20.40M17.60,853.90H20.40M15.80,850.30H20.40" stroke="#000" stroke-width="1.5"/>
<text transform="translate(20.40,1081.10) scale(0.9,1)" text-anchor="middle" class="ax">0.0</text>
<text transform="translate(56.12,1081.10) scale(0.9,1)" text-anchor="middle" class="ax">1.0</text>
<text transform="translate(91.83,1081.10) scale(0.9,1)" text-anchor="middle" class="ax">2.0</text>
<text transform="translate(127.55,1081.10) scale(0.9,1)" text-anchor="middle" class="ax">3.0</text>
<text transform="translate(163.26,1081.10) scale(0.9,1)" text-anchor="middle" class="ax">4.0</text>
<text transform="translate(198.98,1081.10) scale(0.9,1)" text-anchor="middle" class="ax">5.0</text>
<text transform="translate(234.69,1081.10) scale(0.9,1)" text-anchor="middle" class="ax">6.0</text>
<text transform="translate(270.41,1081.10) scale(0.9,1)" text-anchor="middle" class="ax">7.0</text>
<text transform="translate(306.13,1081.10) scale(0.9,1)" text-anchor="middle" class="ax">8.0</text>
<text transform="translate(341.84,1081.10) scale(0.9,1)" text-anchor="middle" class="ax">9.0</text>
<text transform="translate(377.56,1081.10) scale(0.9,1)" text-anchor="middle" class="ax">10.0</text>
<text transform="translate(413.27,1081.10) scale(0.9,1)" text-anchor="middle" class="ax">11.0</text>
<text transform="translate(448.99,1081.10) scale(0.9,1)" text-anchor="middle" class="ax">12.0</text>
<text transform="translate(484.71,1081.10) scale(0.9,1)" text-anchor="middle" class="ax">13.0</text>
<text transform="translate(520.42,1081.10) scale(0.9,1)" text-anchor="middle" class="ax">14.0</text>
<text transform="translate(556.14,1081.10) scale(0.9,1)" text-anchor="middle" class="ax">15.0</text>
<text transform="translate(591.85,1081.10) scale(0.9,1)" text-anchor="middle" class="ax">16.0</text>
<text transform="translate(627.57,1081.10) scale(0.9,1)" text-anchor="middle" class="ax">17.0</text>
<text transform="translate(663.28,1081.10) scale(0.9,1)" text-anchor="middle" class="ax">18.0</text>
<path d="M20.40,1069.90V1074.20M27.54,1069.90V1072.90M34.69,1069.90V1072.90M41.83,1069.90V1072.90M48.97,1069.90V1072.90M56.12,1069.90V1074.20M63.26,1069.90V1072.90M70.40,1069.90V1072.90M77.55,1069.90V1072.90M84.69,1069.90V1072.90M91.83,1069.90V1074.20M98.97,1069.90V1072.90M106.12,1069.90V1072.90M113.26,1069.90V1072.90M120.40,1069.90V1072.90M127.55,1069.90V1074.20M134.69,1069.90V1072.90M141.83,1069.90V1072.90M148.98,1069.90V1072.90M156.12,1069.90V1072.90M163.26,1069.90V1074.20M170.41,1069.90V1072.90M177.55,1069.90V1072.90M184.69,1069.90V1072.90M191.84,1069.90V1072.90M198.98,1069.90V1074.20M206.12,1069.90V1072.90M213.27,1069.90V1072.90M220.41,1069.90V1072.90M227.55,1069.90V1072.90M234.69,1069.90V1074.20M241.84,1069.90V1072.90M248.98,1069.90V1072.90M256.12,1069.90V1072.90M263.27,1069.90V1072.90M270.41,1069.90V1074.20M277.55,1069.90V1072.90M284.70,1069.90V1072.90M291.84,1069.90V1072.90M298.98,1069.90V1072.90M306.13,1069.90V1074.20M313.27,1069.90V1072.90M320.41,1069.90V1072.90M327.56,1069.90V1072.90M334.70,1069.90V1072.90M341.84,1069.90V1074.20M348.99,1069.90V1072.90M356.13,1069.90V1072.90M363.27,1069.90V1072.90M370.41,1069.90V1072.90M377.56,1069.90V1074.20M384.70,1069.90V1072.90M391.84,1069.90V1072.90M398.99,1069.90V1072.90M406.13,1069.90V1072.90M413.27,1069.90V1074.20M420.42,1069.90V1072.90M427.56,1069.90V1072.90M434.70,1069.90V1072.90M441.85,1069.90V1072.90M448.99,1069.90V1074.20M456.13,1069.90V1072.90M463.28,1069.90V1072.90M470.42,1069.90V1072.90M477.56,1069.90V1072.90M484.71,1069.90V1074.20M491.85,1069.90V1072.90M498.99,1069.90V1072.90M506.13,1069.90V1072.90M513.28,1069.90V1072.90M520.42,1069.90V1074.20M527.56,1069.90V1072.90M534.71,1069.90V1072.90M541.85,1069.90V1072.90M548.99,1069.90V1072.90M556.14,1069.90V1074.20M563.28,1069.90V1072.90M570.42,1069.90V1072.90M577.57,1069.90V1072.90M584.71,1069.90V1072.90M591.85,1069.90V1074.20M599.00,1069.90V1072.90M606.14,1069.90V1072.90M613.28,1069.90V1072.90M620.43,1069.90V1072.90M627.57,1069.90V1074.20M634.71,1069.90V1072.90M641.85,1069.90V1072.90M649.00,1069.90V1072.90M656.14,1069.90V1072.90M663.28,1069.90V1074.20M670.43,1069.90V1072.90M677.57,1069.90V1072.90M684.71,1069.90V1072.90M691.86,1069.90V1072.90M699.00,1069.90V1074.20" stroke="#000" stroke-width="1.4"/>
<text transform="translate(688.00,1081.10) scale(0.9,1)" text-anchor="start" class="ax">min</text>
<text transform="translate(16.20,849.10) scale(0.9,1)" text-anchor="start" class="ax">mV</text>
<path d="M45.20,1063.89 L97.20,1063.88" fill="none" stroke="#f00" stroke-width="1.9"/>
<path d="M42.30,1066.69L48.10,1066.69L45.80,1063.29L44.60,1063.29Z M44.00,1069.79h2.4v-3.3h-2.4ZM94.30,1061.08L100.10,1061.08L97.80,1064.48L96.60,1064.48Z M96.00,1057.98h2.4v3.3h-2.4Z" fill="#f00"/>
<path d="M297.30,1063.82 L334.40,1063.81 L344.60,1063.80 L364.00,1063.80 L385.80,1063.79" fill="none" stroke="#f00" stroke-width="1.9"/>
<path d="M294.40,1066.62L300.20,1066.62L297.90,1063.22L296.70,1063.22Z M296.10,1069.72h2.4v-3.3h-2.4ZM331.50,1061.01L337.30,1061.01L335.00,1064.41L333.80,1064.41Z M333.20,1057.91h2.4v3.3h-2.4ZM331.50,1066.61L337.30,1066.61L335.00,1063.21L333.80,1063.21Z M333.20,1069.71h2.4v-3.3h-2.4ZM341.70,1061.00L347.50,1061.00L345.20,1064.40L344.00,1064.40Z M343.40,1057.90h2.4v3.3h-2.4ZM341.70,1066.60L347.50,1066.60L345.20,1063.20L344.00,1063.20Z M343.40,1069.70h2.4v-3.3h-2.4ZM361.10,1061.00L366.90,1061.00L364.60,1064.40L363.40,1064.40Z M362.80,1057.90h2.4v3.3h-2.4ZM361.10,1066.60L366.90,1066.60L364.60,1063.20L363.40,1063.20Z M362.80,1069.70h2.4v-3.3h-2.4ZM382.90,1060.99L388.70,1060.99L386.40,1064.39L385.20,1064.39Z M384.60,1057.89h2.4v3.3h-2.4Z" fill="#f00"/>
<text transform="translate(76.40,1062.00) rotate(-90)" class="pl">/1.374</text>
<text transform="translate(327.50,870.60) rotate(-90)" class="pl">/8.404</text>
<text transform="translate(345.50,1062.00) rotate(-90)" class="pl">8.908</text>
<text transform="translate(359.30,1062.00) rotate(-90)" class="pl">/9.295</text>
<text transform="translate(376.10,1062.00) rotate(-90)" class="pl">/9.764</text>
<text x="350.6" y="912.9" class="ti" font-size="12" textLength="79.6" lengthAdjust="spacingAndGlyphs">[<tspan font-size="7.5" dy="-4.5">18</tspan><tspan dy="4.5">F]PSMA-1007</tspan></text>
<path d="M356.70,925.70L338.74,939.99" stroke="#000" stroke-width="2.4"/><path d="M331.70,945.60L336.41,935.46L342.64,943.28Z" fill="#000"/>
<text x="528.9" y="876.4" class="ti" font-size="13.3" textLength="157.7" lengthAdjust="spacingAndGlyphs">Silicone + ACE salt precursor</text>
<path d="M24.2,1386.9 L42.2,1386.8 L42.5,1386.4 L42.8,1385.0 L43.6,1374.3 L43.8,1373.2 L44.0,1374.3 L44.5,1381.5 L44.8,1384.2 L44.9,1384.3 L45.1,1383.7 L45.7,1378.1 L45.9,1377.3 L46.1,1377.8 L46.8,1382.1 L47.0,1382.3 L47.4,1382.0 L47.6,1382.2 L48.8,1386.0 L49.2,1386.6 L49.9,1386.8 L54.1,1386.8 L56.4,1386.2 L58.4,1386.7 L60.0,1386.8 L251.9,1386.4 L253.1,1386.3 L253.8,1386.0 L254.4,1385.3 L255.6,1383.5 L256.2,1383.1 L256.8,1383.4 L258.1,1385.3 L258.7,1385.9 L259.4,1386.2 L260.3,1386.4 L308.0,1386.3 L309.5,1386.2 L310.0,1385.9 L310.3,1385.5 L310.8,1383.6 L311.2,1380.2 L311.6,1374.0 L312.2,1357.7 L313.4,1311.0 L313.7,1303.8 L314.0,1301.3 L314.3,1303.0 L314.7,1310.1 L316.2,1357.3 L317.0,1374.8 L317.5,1380.7 L318.0,1383.9 L318.6,1385.5 L319.0,1386.0 L319.5,1386.2 L321.7,1386.3 L398.8,1386.1 L420.0,1386.0 L447.0,1385.6 L461.6,1385.1 L481.2,1384.0 L494.1,1383.0 L510.5,1381.6 L512.2,1381.3 L515.3,1382.0 L521.0,1383.7 L528.6,1386.4 L530.6,1386.9 L532.5,1387.2 L534.2,1387.2 L535.9,1386.9 L540.8,1385.4 L551.2,1383.2 L553.7,1382.8 L556.4,1382.6 L559.4,1382.5 L569.7,1383.0 L579.8,1383.6 L586.8,1384.4 L600.0,1385.0 L696.6,1387.2" fill="none" stroke="#000" stroke-width="1.75" stroke-linejoin="round" clip-path="url(#c5)"/>
<path d="M24.20,1401.80V1178.60H696.60V1401.80M24.20,1397.50H696.60" fill="none" stroke="#000" stroke-width="1.9"/>
<text transform="translate(19.20,1389.70) scale(0.9,1)" text-anchor="end" class="ax">0.0</text>
<text transform="translate(19.20,1363.64) scale(0.9,1)" text-anchor="end" class="ax">2.5</text>
<text transform="translate(19.20,1337.57) scale(0.9,1)" text-anchor="end" class="ax">5.0</text>
<text transform="translate(19.20,1311.51) scale(0.9,1)" text-anchor="end" class="ax">7.5</text>
<text transform="translate(19.20,1285.45) scale(0.9,1)" text-anchor="end" class="ax">10.0</text>
<text transform="translate(19.20,1259.39) scale(0.9,1)" text-anchor="end" class="ax">12.5</text>
<text transform="translate(19.20,1233.32) scale(0.9,1)" text-anchor="end" class="ax">15.0</text>
<text transform="translate(19.20,1207.26) scale(0.9,1)" text-anchor="end" class="ax">17.5</text>
<text transform="translate(19.20,1181.20) scale(0.9,1)" text-anchor="end" class="ax">20.0</text>
<path d="M21.40,1392.31H24.20M19.60,1387.10H24.20M21.40,1381.89H24.20M21.40,1376.67H24.20M21.40,1371.46H24.20M21.40,1366.25H24.20M19.60,1361.04H24.20M21.40,1355.82H24.20M21.40,1350.61H24.20M21.40,1345.40H24.20M21.40,1340.19H24.20M19.60,1334.97H24.20M21.40,1329.76H24.20M21.40,1324.55H24.20M21.40,1319.34H24.20M21.40,1314.12H24.20M19.60,1308.91H24.20M21.40,1303.70H24.20M21.40,1298.49H24.20M21.40,1293.27H24.20M21.40,1288.06H24.20M19.60,1282.85H24.20M21.40,1277.64H24.20M21.40,1272.42H24.20M21.40,1267.21H24.20M21.40,1262.00H24.20M19.60,1256.79H24.20M21.40,1251.57H24.20M21.40,1246.36H24.20M21.40,1241.15H24.20M21.40,1235.94H24.20M19.60,1230.72H24.20M21.40,1225.51H24.20M21.40,1220.30H24.20M21.40,1215.09H24.20M21.40,1209.88H24.20M19.60,1204.66H24.20M21.40,1199.45H24.20M21.40,1194.24H24.20M21.40,1189.02H24.20M21.40,1183.81H24.20M19.60,1178.60H24.20" stroke="#000" stroke-width="1.5"/>
<text transform="translate(24.20,1408.70) scale(0.9,1)" text-anchor="middle" class="ax">0.0</text>
<text transform="translate(59.59,1408.70) scale(0.9,1)" text-anchor="middle" class="ax">1.0</text>
<text transform="translate(94.98,1408.70) scale(0.9,1)" text-anchor="middle" class="ax">2.0</text>
<text transform="translate(130.37,1408.70) scale(0.9,1)" text-anchor="middle" class="ax">3.0</text>
<text transform="translate(165.76,1408.70) scale(0.9,1)" text-anchor="middle" class="ax">4.0</text>
<text transform="translate(201.15,1408.70) scale(0.9,1)" text-anchor="middle" class="ax">5.0</text>
<text transform="translate(236.54,1408.70) scale(0.9,1)" text-anchor="middle" class="ax">6.0</text>
<text transform="translate(271.93,1408.70) scale(0.9,1)" text-anchor="middle" class="ax">7.0</text>
<text transform="translate(307.32,1408.70) scale(0.9,1)" text-anchor="middle" class="ax">8.0</text>
<text transform="translate(342.71,1408.70) scale(0.9,1)" text-anchor="middle" class="ax">9.0</text>
<text transform="translate(378.09,1408.70) scale(0.9,1)" text-anchor="middle" class="ax">10.0</text>
<text transform="translate(413.48,1408.70) scale(0.9,1)" text-anchor="middle" class="ax">11.0</text>
<text transform="translate(448.87,1408.70) scale(0.9,1)" text-anchor="middle" class="ax">12.0</text>
<text transform="translate(484.26,1408.70) scale(0.9,1)" text-anchor="middle" class="ax">13.0</text>
<text transform="translate(519.65,1408.70) scale(0.9,1)" text-anchor="middle" class="ax">14.0</text>
<text transform="translate(555.04,1408.70) scale(0.9,1)" text-anchor="middle" class="ax">15.0</text>
<text transform="translate(590.43,1408.70) scale(0.9,1)" text-anchor="middle" class="ax">16.0</text>
<text transform="translate(625.82,1408.70) scale(0.9,1)" text-anchor="middle" class="ax">17.0</text>
<text transform="translate(661.21,1408.70) scale(0.9,1)" text-anchor="middle" class="ax">18.0</text>
<path d="M24.20,1397.50V1401.80M31.28,1397.50V1400.50M38.36,1397.50V1400.50M45.43,1397.50V1400.50M52.51,1397.50V1400.50M59.59,1397.50V1401.80M66.67,1397.50V1400.50M73.75,1397.50V1400.50M80.82,1397.50V1400.50M87.90,1397.50V1400.50M94.98,1397.50V1401.80M102.06,1397.50V1400.50M109.13,1397.50V1400.50M116.21,1397.50V1400.50M123.29,1397.50V1400.50M130.37,1397.50V1401.80M137.45,1397.50V1400.50M144.52,1397.50V1400.50M151.60,1397.50V1400.50M158.68,1397.50V1400.50M165.76,1397.50V1401.80M172.84,1397.50V1400.50M179.91,1397.50V1400.50M186.99,1397.50V1400.50M194.07,1397.50V1400.50M201.15,1397.50V1401.80M208.23,1397.50V1400.50M215.30,1397.50V1400.50M222.38,1397.50V1400.50M229.46,1397.50V1400.50M236.54,1397.50V1401.80M243.61,1397.50V1400.50M250.69,1397.50V1400.50M257.77,1397.50V1400.50M264.85,1397.50V1400.50M271.93,1397.50V1401.80M279.00,1397.50V1400.50M286.08,1397.50V1400.50M293.16,1397.50V1400.50M300.24,1397.50V1400.50M307.32,1397.50V1401.80M314.39,1397.50V1400.50M321.47,1397.50V1400.50M328.55,1397.50V1400.50M335.63,1397.50V1400.50M342.71,1397.50V1401.80M349.78,1397.50V1400.50M356.86,1397.50V1400.50M363.94,1397.50V1400.50M371.02,1397.50V1400.50M378.09,1397.50V1401.80M385.17,1397.50V1400.50M392.25,1397.50V1400.50M399.33,1397.50V1400.50M406.41,1397.50V1400.50M413.48,1397.50V1401.80M420.56,1397.50V1400.50M427.64,1397.50V1400.50M434.72,1397.50V1400.50M441.80,1397.50V1400.50M448.87,1397.50V1401.80M455.95,1397.50V1400.50M463.03,1397.50V1400.50M470.11,1397.50V1400.50M477.19,1397.50V1400.50M484.26,1397.50V1401.80M491.34,1397.50V1400.50M498.42,1397.50V1400.50M505.50,1397.50V1400.50M512.57,1397.50V1400.50M519.65,1397.50V1401.80M526.73,1397.50V1400.50M533.81,1397.50V1400.50M540.89,1397.50V1400.50M547.96,1397.50V1400.50M555.04,1397.50V1401.80M562.12,1397.50V1400.50M569.20,1397.50V1400.50M576.28,1397.50V1400.50M583.35,1397.50V1400.50M590.43,1397.50V1401.80M597.51,1397.50V1400.50M604.59,1397.50V1400.50M611.67,1397.50V1400.50M618.74,1397.50V1400.50M625.82,1397.50V1401.80M632.90,1397.50V1400.50M639.98,1397.50V1400.50M647.05,1397.50V1400.50M654.13,1397.50V1400.50M661.21,1397.50V1401.80M668.29,1397.50V1400.50M675.37,1397.50V1400.50M682.44,1397.50V1400.50M689.52,1397.50V1400.50M696.60,1397.50V1401.80" stroke="#000" stroke-width="1.4"/>
<text transform="translate(685.60,1408.70) scale(0.9,1)" text-anchor="start" class="ax">min</text>
<text transform="translate(20.00,1177.40) scale(0.9,1)" text-anchor="start" class="ax">mV</text>
<path d="M305.30,1386.28 L328.80,1386.22" fill="none" stroke="#f00" stroke-width="1.9"/>
<path d="M302.40,1389.08L308.20,1389.08L305.90,1385.68L304.70,1385.68Z M304.10,1392.18h2.4v-3.3h-2.4ZM325.90,1383.42L331.70,1383.42L329.40,1386.82L328.20,1386.82Z M327.60,1380.32h2.4v3.3h-2.4Z" fill="#f00"/>
<text transform="translate(321.00,1302.00) rotate(-90)" class="pl">/8.192</text>
<text x="343.4" y="1296.6" class="ti" font-size="12" textLength="58.9" lengthAdjust="spacingAndGlyphs">PSMA-1007</text>
<path d="M348.20,1305.80L330.24,1320.09" stroke="#000" stroke-width="2.4"/><path d="M323.20,1325.70L327.91,1315.56L334.14,1323.38Z" fill="#000"/>
<text x="516.3" y="1205.8" class="ti" font-size="13.3" textLength="168.1" lengthAdjust="spacingAndGlyphs">PSMA-1007 reference standard</text>
<path d="M25.7,1654.3 L26.5,1652.8 L28.5,1653.4 L30.0,1654.3 L43.3,1654.3 L43.3,1430.0 L51.0,1430.0 L51.0,1446.0 L51.6,1467.9 L52.7,1508.2 L55.2,1586.1 L55.7,1597.0 L56.3,1605.4 L56.9,1611.7 L57.8,1618.3 L58.7,1622.8 L60.8,1629.4 L63.7,1636.1 L65.8,1640.1 L66.9,1641.5 L67.9,1642.8 L70.2,1644.8 L71.9,1646.0 L73.7,1647.0 L76.9,1648.3 L79.6,1649.1 L83.8,1650.1 L90.9,1651.4 L98.2,1652.1 L107.3,1652.5 L123.4,1652.8 L123.4,1651.8 L124.0,1651.6 L124.5,1651.7 L125.8,1652.6 L126.6,1652.8 L134.9,1652.8 L136.1,1652.6 L137.5,1651.3 L138.0,1651.1 L138.5,1651.3 L139.9,1652.6 L141.1,1652.9 L172.1,1652.9 L173.2,1652.8 L174.0,1652.4 L174.7,1651.8 L176.2,1649.8 L176.9,1649.5 L177.6,1649.8 L179.1,1651.8 L179.8,1652.4 L180.6,1652.8 L181.7,1653.0 L209.1,1653.0 L210.7,1652.8 L212.6,1652.1 L213.4,1652.0 L214.2,1652.1 L216.0,1652.8 L217.2,1653.0 L226.9,1653.0 L227.9,1652.8 L228.7,1652.5 L229.4,1651.9 L230.7,1650.5 L231.5,1650.2 L232.3,1650.5 L234.2,1652.4 L234.8,1652.7 L235.6,1652.9 L253.4,1652.9 L254.2,1652.8 L254.7,1652.6 L255.1,1652.2 L255.5,1651.4 L256.1,1649.4 L257.3,1643.2 L257.6,1642.3 L257.9,1641.9 L258.2,1642.2 L258.6,1643.4 L259.7,1648.7 L260.3,1650.9 L260.9,1652.2 L261.6,1652.7 L263.0,1652.9 L272.5,1652.9 L273.6,1652.6 L275.1,1651.6 L275.7,1651.4 L276.3,1651.6 L277.8,1652.6 L278.7,1652.8 L286.5,1652.8 L287.2,1652.6 L287.7,1652.0 L288.1,1650.8 L288.4,1649.2 L289.0,1643.7 L290.1,1629.0 L290.4,1626.4 L290.7,1625.5 L291.0,1626.2 L291.4,1629.2 L293.0,1647.1 L293.6,1650.6 L293.9,1651.5 L294.3,1652.3 L295.0,1652.7 L296.3,1652.8 L297.0,1652.6 L297.5,1651.9 L298.2,1649.2 L299.4,1640.9 L299.7,1639.7 L299.9,1639.5 L300.2,1639.9 L300.5,1641.0 L302.0,1650.0 L302.5,1651.6 L303.0,1652.4 L303.6,1652.7 L304.5,1652.8 L310.8,1652.8 L311.8,1652.6 L312.2,1652.1 L312.5,1651.4 L313.0,1648.2 L313.4,1642.7 L313.8,1632.6 L314.5,1599.8 L315.7,1519.6 L316.0,1507.6 L316.3,1503.3 L316.6,1506.3 L317.0,1518.7 L318.5,1601.8 L319.3,1632.6 L319.8,1643.0 L320.3,1648.5 L320.9,1651.5 L321.3,1652.2 L321.8,1652.6 L323.4,1652.8 L337.1,1652.8 L338.2,1652.5 L339.5,1651.5 L340.0,1651.3 L340.4,1651.4 L341.6,1652.4 L342.3,1652.7 L345.5,1652.8 L346.6,1652.5 L348.0,1651.0 L348.5,1650.8 L349.0,1651.0 L350.4,1652.4 L350.9,1652.7 L351.6,1652.8 L385.8,1652.7 L386.3,1652.5 L386.7,1651.3 L387.6,1643.4 L387.9,1642.2 L388.1,1642.5 L388.3,1643.4 L389.1,1649.3 L389.5,1651.3 L390.0,1652.4 L390.4,1652.7 L390.9,1652.7 L435.0,1652.6 L443.2,1652.5 L449.9,1652.2 L453.7,1651.6 L454.2,1651.3 L455.1,1650.5 L455.5,1650.3 L455.9,1650.4 L456.9,1651.1 L457.7,1651.3 L467.2,1650.4 L467.6,1650.0 L467.9,1649.3 L468.7,1645.4 L469.0,1644.7 L469.2,1644.9 L469.4,1645.4 L470.5,1649.2 L470.9,1649.7 L471.4,1649.9 L483.3,1648.8 L483.7,1648.6 L484.1,1648.2 L485.1,1646.4 L485.5,1646.1 L485.9,1646.4 L486.9,1647.9 L487.3,1648.2 L487.7,1648.3 L498.0,1647.6 L503.7,1646.6 L508.5,1645.3 L514.2,1643.3 L518.0,1641.5 L521.2,1639.2 L524.0,1636.5 L524.9,1635.3 L527.4,1630.8 L528.1,1629.8 L528.7,1629.5 L529.2,1630.0 L529.5,1631.1 L530.5,1638.0 L532.2,1646.7 L533.0,1649.8 L533.5,1650.9 L533.9,1651.3 L535.0,1651.8 L536.4,1651.7 L548.5,1650.1 L554.5,1649.8 L561.9,1650.0 L580.0,1651.0 L614.0,1652.4 L614.5,1652.2 L614.9,1651.3 L615.8,1645.4 L616.1,1644.5 L616.3,1644.7 L616.5,1645.4 L617.6,1651.1 L618.0,1652.0 L618.6,1652.5 L651.3,1653.2 L651.7,1653.0 L651.9,1652.6 L652.3,1649.8 L653.1,1631.1 L653.4,1627.5 L653.6,1628.3 L653.8,1630.5 L654.9,1648.9 L655.4,1652.2 L655.7,1652.9 L656.0,1653.2 L657.1,1653.4 L697.8,1654.3" fill="none" stroke="#000" stroke-width="1.75" stroke-linejoin="round" clip-path="url(#c6)"/>
<path d="M25.70,1669.00V1446.40H697.80V1669.00M25.70,1664.70H697.80" fill="none" stroke="#000" stroke-width="1.9"/>
<text transform="translate(20.70,1657.60) scale(0.9,1)" text-anchor="end" class="ax">0.0</text>
<text transform="translate(20.70,1631.52) scale(0.9,1)" text-anchor="end" class="ax">2.5</text>
<text transform="translate(20.70,1605.45) scale(0.9,1)" text-anchor="end" class="ax">5.0</text>
<text transform="translate(20.70,1579.38) scale(0.9,1)" text-anchor="end" class="ax">7.5</text>
<text transform="translate(20.70,1553.30) scale(0.9,1)" text-anchor="end" class="ax">10.0</text>
<text transform="translate(20.70,1527.22) scale(0.9,1)" text-anchor="end" class="ax">12.5</text>
<text transform="translate(20.70,1501.15) scale(0.9,1)" text-anchor="end" class="ax">15.0</text>
<text transform="translate(20.70,1475.08) scale(0.9,1)" text-anchor="end" class="ax">17.5</text>
<text transform="translate(20.70,1449.00) scale(0.9,1)" text-anchor="end" class="ax">20.0</text>
<path d="M22.90,1660.21H25.70M21.10,1655.00H25.70M22.90,1649.79H25.70M22.90,1644.57H25.70M22.90,1639.36H25.70M22.90,1634.14H25.70M21.10,1628.92H25.70M22.90,1623.71H25.70M22.90,1618.50H25.70M22.90,1613.28H25.70M22.90,1608.07H25.70M21.10,1602.85H25.70M22.90,1597.63H25.70M22.90,1592.42H25.70M22.90,1587.20H25.70M22.90,1581.99H25.70M21.10,1576.78H25.70M22.90,1571.56H25.70M22.90,1566.35H25.70M22.90,1561.13H25.70M22.90,1555.91H25.70M21.10,1550.70H25.70M22.90,1545.49H25.70M22.90,1540.27H25.70M22.90,1535.06H25.70M22.90,1529.84H25.70M21.10,1524.62H25.70M22.90,1519.41H25.70M22.90,1514.20H25.70M22.90,1508.98H25.70M22.90,1503.77H25.70M21.10,1498.55H25.70M22.90,1493.34H25.70M22.90,1488.12H25.70M22.90,1482.90H25.70M22.90,1477.69H25.70M21.10,1472.48H25.70M22.90,1467.26H25.70M22.90,1462.05H25.70M22.90,1456.83H25.70M22.90,1451.62H25.70M21.10,1446.40H25.70" stroke="#000" stroke-width="1.5"/>
<text transform="translate(25.70,1675.90) scale(0.9,1)" text-anchor="middle" class="ax">0.0</text>
<text transform="translate(61.07,1675.90) scale(0.9,1)" text-anchor="middle" class="ax">1.0</text>
<text transform="translate(96.45,1675.90) scale(0.9,1)" text-anchor="middle" class="ax">2.0</text>
<text transform="translate(131.82,1675.90) scale(0.9,1)" text-anchor="middle" class="ax">3.0</text>
<text transform="translate(167.19,1675.90) scale(0.9,1)" text-anchor="middle" class="ax">4.0</text>
<text transform="translate(202.57,1675.90) scale(0.9,1)" text-anchor="middle" class="ax">5.0</text>
<text transform="translate(237.94,1675.90) scale(0.9,1)" text-anchor="middle" class="ax">6.0</text>
<text transform="translate(273.32,1675.90) scale(0.9,1)" text-anchor="middle" class="ax">7.0</text>
<text transform="translate(308.69,1675.90) scale(0.9,1)" text-anchor="middle" class="ax">8.0</text>
<text transform="translate(344.06,1675.90) scale(0.9,1)" text-anchor="middle" class="ax">9.0</text>
<text transform="translate(379.44,1675.90) scale(0.9,1)" text-anchor="middle" class="ax">10.0</text>
<text transform="translate(414.81,1675.90) scale(0.9,1)" text-anchor="middle" class="ax">11.0</text>
<text transform="translate(450.18,1675.90) scale(0.9,1)" text-anchor="middle" class="ax">12.0</text>
<text transform="translate(485.56,1675.90) scale(0.9,1)" text-anchor="middle" class="ax">13.0</text>
<text transform="translate(520.93,1675.90) scale(0.9,1)" text-anchor="middle" class="ax">14.0</text>
<text transform="translate(556.31,1675.90) scale(0.9,1)" text-anchor="middle" class="ax">15.0</text>
<text transform="translate(591.68,1675.90) scale(0.9,1)" text-anchor="middle" class="ax">16.0</text>
<text transform="translate(627.05,1675.90) scale(0.9,1)" text-anchor="middle" class="ax">17.0</text>
<text transform="translate(662.43,1675.90) scale(0.9,1)" text-anchor="middle" class="ax">18.0</text>
<path d="M25.70,1664.70V1669.00M32.77,1664.70V1667.70M39.85,1664.70V1667.70M46.92,1664.70V1667.70M54.00,1664.70V1667.70M61.07,1664.70V1669.00M68.15,1664.70V1667.70M75.22,1664.70V1667.70M82.30,1664.70V1667.70M89.37,1664.70V1667.70M96.45,1664.70V1669.00M103.52,1664.70V1667.70M110.60,1664.70V1667.70M117.67,1664.70V1667.70M124.75,1664.70V1667.70M131.82,1664.70V1669.00M138.90,1664.70V1667.70M145.97,1664.70V1667.70M153.05,1664.70V1667.70M160.12,1664.70V1667.70M167.19,1664.70V1669.00M174.27,1664.70V1667.70M181.34,1664.70V1667.70M188.42,1664.70V1667.70M195.49,1664.70V1667.70M202.57,1664.70V1669.00M209.64,1664.70V1667.70M216.72,1664.70V1667.70M223.79,1664.70V1667.70M230.87,1664.70V1667.70M237.94,1664.70V1669.00M245.02,1664.70V1667.70M252.09,1664.70V1667.70M259.17,1664.70V1667.70M266.24,1664.70V1667.70M273.32,1664.70V1669.00M280.39,1664.70V1667.70M287.47,1664.70V1667.70M294.54,1664.70V1667.70M301.61,1664.70V1667.70M308.69,1664.70V1669.00M315.76,1664.70V1667.70M322.84,1664.70V1667.70M329.91,1664.70V1667.70M336.99,1664.70V1667.70M344.06,1664.70V1669.00M351.14,1664.70V1667.70M358.21,1664.70V1667.70M365.29,1664.70V1667.70M372.36,1664.70V1667.70M379.44,1664.70V1669.00M386.51,1664.70V1667.70M393.59,1664.70V1667.70M400.66,1664.70V1667.70M407.74,1664.70V1667.70M414.81,1664.70V1669.00M421.89,1664.70V1667.70M428.96,1664.70V1667.70M436.03,1664.70V1667.70M443.11,1664.70V1667.70M450.18,1664.70V1669.00M457.26,1664.70V1667.70M464.33,1664.70V1667.70M471.41,1664.70V1667.70M478.48,1664.70V1667.70M485.56,1664.70V1669.00M492.63,1664.70V1667.70M499.71,1664.70V1667.70M506.78,1664.70V1667.70M513.86,1664.70V1667.70M520.93,1664.70V1669.00M528.01,1664.70V1667.70M535.08,1664.70V1667.70M542.16,1664.70V1667.70M549.23,1664.70V1667.70M556.31,1664.70V1669.00M563.38,1664.70V1667.70M570.45,1664.70V1667.70M577.53,1664.70V1667.70M584.60,1664.70V1667.70M591.68,1664.70V1669.00M598.75,1664.70V1667.70M605.83,1664.70V1667.70M612.90,1664.70V1667.70M619.98,1664.70V1667.70M627.05,1664.70V1669.00M634.13,1664.70V1667.70M641.20,1664.70V1667.70M648.28,1664.70V1667.70M655.35,1664.70V1667.70M662.43,1664.70V1669.00M669.50,1664.70V1667.70M676.58,1664.70V1667.70M683.65,1664.70V1667.70M690.73,1664.70V1667.70M697.80,1664.70V1669.00" stroke="#000" stroke-width="1.4"/>
<text transform="translate(686.80,1675.90) scale(0.9,1)" text-anchor="start" class="ax">min</text>
<text transform="translate(21.50,1445.20) scale(0.9,1)" text-anchor="start" class="ax">mV</text>
<path d="M168.00,1652.92 L185.60,1652.96" fill="none" stroke="#f00" stroke-width="1.9"/>
<path d="M165.10,1655.72L170.90,1655.72L168.60,1652.32L167.40,1652.32Z M166.80,1658.82h2.4v-3.3h-2.4ZM182.70,1650.16L188.50,1650.16L186.20,1653.56L185.00,1653.56Z M184.40,1647.06h2.4v3.3h-2.4Z" fill="#f00"/>
<path d="M205.60,1652.99 L222.70,1652.97" fill="none" stroke="#f00" stroke-width="1.9"/>
<path d="M202.70,1655.79L208.50,1655.79L206.20,1652.39L205.00,1652.39Z M204.40,1658.89h2.4v-3.3h-2.4ZM219.80,1650.17L225.60,1650.17L223.30,1653.57L222.10,1653.57Z M221.50,1647.07h2.4v3.3h-2.4Z" fill="#f00"/>
<path d="M228.40,1652.96 L238.40,1652.94" fill="none" stroke="#f00" stroke-width="1.9"/>
<path d="M225.50,1655.76L231.30,1655.76L229.00,1652.36L227.80,1652.36Z M227.20,1658.86h2.4v-3.3h-2.4ZM235.50,1650.14L241.30,1650.14L239.00,1653.54L237.80,1653.54Z M237.20,1647.04h2.4v3.3h-2.4Z" fill="#f00"/>
<path d="M254.10,1652.92 L269.20,1652.89 L279.60,1652.88" fill="none" stroke="#f00" stroke-width="1.9"/>
<path d="M251.20,1655.72L257.00,1655.72L254.70,1652.32L253.50,1652.32Z M252.90,1658.82h2.4v-3.3h-2.4ZM266.30,1650.09L272.10,1650.09L269.80,1653.49L268.60,1653.49Z M268.00,1646.99h2.4v3.3h-2.4ZM266.30,1655.69L272.10,1655.69L269.80,1652.29L268.60,1652.29Z M268.00,1658.79h2.4v-3.3h-2.4ZM276.70,1650.08L282.50,1650.08L280.20,1653.48L279.00,1653.48Z M278.40,1646.98h2.4v3.3h-2.4Z" fill="#f00"/>
<path d="M285.10,1652.87 L297.10,1652.85 L307.80,1652.83 L326.70,1652.81" fill="none" stroke="#f00" stroke-width="1.9"/>
<path d="M282.20,1655.67L288.00,1655.67L285.70,1652.27L284.50,1652.27Z M283.90,1658.77h2.4v-3.3h-2.4ZM294.20,1650.05L300.00,1650.05L297.70,1653.45L296.50,1653.45Z M295.90,1646.95h2.4v3.3h-2.4ZM294.20,1655.65L300.00,1655.65L297.70,1652.25L296.50,1652.25Z M295.90,1658.75h2.4v-3.3h-2.4ZM304.90,1650.03L310.70,1650.03L308.40,1653.43L307.20,1653.43Z M306.60,1646.93h2.4v3.3h-2.4ZM304.90,1655.63L310.70,1655.63L308.40,1652.23L307.20,1652.23Z M306.60,1658.73h2.4v-3.3h-2.4ZM323.80,1650.01L329.60,1650.01L327.30,1653.41L326.10,1653.41Z M325.50,1646.91h2.4v3.3h-2.4Z" fill="#f00"/>
<path d="M384.80,1652.70 L391.30,1652.68" fill="none" stroke="#f00" stroke-width="1.9"/>
<path d="M381.90,1655.50L387.70,1655.50L385.40,1652.10L384.20,1652.10Z M383.60,1658.60h2.4v-3.3h-2.4ZM388.40,1649.88L394.20,1649.88L391.90,1653.28L390.70,1653.28Z M390.10,1646.78h2.4v3.3h-2.4Z" fill="#f00"/>
<text transform="translate(183.80,1650.00) rotate(-90)" class="pl">/4.275</text>
<text transform="translate(220.30,1651.00) rotate(-90)" class="pl">/5.307</text>
<text transform="translate(238.40,1650.00) rotate(-90)" class="pl">/5.819</text>
<text transform="translate(264.80,1642.50) rotate(-90)" class="pl">/6.565</text>
<text transform="translate(282.60,1651.00) rotate(-90)" class="pl">/7.068</text>
<text transform="translate(297.60,1626.20) rotate(-90)" class="pl">/7.492</text>
<text transform="translate(306.80,1640.30) rotate(-90)" class="pl">/7.748</text>
<text transform="translate(323.20,1503.80) rotate(-90)" class="pl">/8.211</text>
<text transform="translate(394.80,1642.60) rotate(-90)" class="pl">/10.239</text>
<text x="350.6" y="1509.9" class="ti" font-size="12" textLength="57.8" lengthAdjust="spacingAndGlyphs">PSMA-1007</text>
<path d="M352.70,1519.10L334.58,1533.34" stroke="#000" stroke-width="2.4"/><path d="M327.50,1538.90L332.27,1528.79L338.45,1536.65Z" fill="#000"/>
<text x="593.2" y="1473.1" class="ti" font-size="13.3" textLength="91.5" lengthAdjust="spacingAndGlyphs">Fluoro-elastomer</text>
<path d="M24.7,1921.8 L42.9,1921.8 L42.9,1700.0 L51.0,1700.0 L53.0,1835.8 L53.6,1860.0 L54.2,1870.2 L54.6,1874.2 L55.5,1879.8 L57.0,1890.8 L57.9,1895.7 L58.7,1898.4 L59.6,1900.4 L61.4,1903.6 L63.3,1906.7 L64.8,1908.8 L66.1,1910.5 L67.4,1911.8 L69.1,1913.1 L70.4,1913.8 L71.7,1914.1 L73.9,1914.2 L78.1,1914.9 L90.0,1918.3 L94.6,1919.4 L97.1,1919.7 L102.2,1919.9 L132.7,1920.6 L134.3,1920.3 L136.0,1919.3 L136.6,1919.1 L137.2,1919.3 L138.8,1920.3 L140.2,1920.6 L171.1,1920.5 L172.3,1920.4 L173.1,1920.1 L173.8,1919.6 L175.1,1918.3 L175.8,1918.0 L176.5,1918.2 L177.8,1919.5 L178.5,1920.1 L179.3,1920.3 L180.3,1920.4 L208.8,1920.3 L210.2,1920.1 L211.9,1919.0 L212.6,1918.8 L213.3,1919.0 L214.9,1920.0 L216.0,1920.3 L226.7,1920.3 L227.6,1920.2 L228.3,1919.9 L230.0,1918.6 L230.7,1918.3 L231.4,1918.6 L233.0,1919.9 L234.3,1920.2 L253.1,1920.2 L254.6,1920.1 L255.0,1919.8 L255.4,1919.3 L256.1,1917.5 L257.3,1912.9 L257.6,1912.2 L257.9,1911.9 L258.2,1912.2 L258.6,1913.1 L259.7,1917.1 L260.3,1918.7 L260.9,1919.7 L261.6,1920.1 L263.1,1920.2 L272.0,1920.2 L273.1,1919.8 L274.6,1918.4 L275.2,1918.2 L275.8,1918.4 L277.3,1919.8 L278.2,1920.1 L285.7,1920.2 L286.5,1920.1 L287.0,1919.7 L287.4,1919.0 L287.7,1918.0 L288.3,1914.5 L289.4,1905.3 L289.7,1904.0 L289.9,1903.7 L290.2,1904.1 L290.5,1905.4 L291.8,1914.5 L292.5,1918.0 L292.9,1919.1 L293.3,1919.7 L293.9,1920.1 L294.7,1920.2 L296.0,1920.0 L296.4,1919.7 L296.8,1919.1 L297.4,1917.4 L298.5,1913.0 L298.8,1912.3 L299.0,1912.2 L299.3,1912.4 L299.6,1913.1 L300.8,1917.6 L301.4,1919.1 L301.8,1919.7 L302.2,1920.0 L303.5,1920.2 L311.0,1920.2 L311.8,1920.1 L312.3,1919.9 L312.8,1919.5 L313.2,1918.8 L314.7,1914.2 L315.0,1913.7 L315.3,1913.4 L315.6,1913.6 L315.9,1914.1 L317.2,1917.9 L317.8,1919.2 L318.6,1920.0 L319.7,1920.2 L337.7,1920.3 L338.5,1920.1 L339.1,1919.8 L341.0,1917.8 L341.4,1917.5 L341.8,1917.4 L342.5,1917.7 L344.0,1919.4 L344.7,1919.9 L345.5,1920.2 L346.6,1920.4 L426.2,1920.9 L443.0,1920.8 L454.2,1920.6 L460.5,1920.3 L463.6,1919.9 L466.7,1919.0 L470.0,1918.5 L494.9,1915.7 L495.7,1915.3 L496.6,1913.9 L497.0,1913.6 L497.4,1913.8 L498.3,1915.1 L498.7,1915.3 L499.3,1915.4 L505.1,1915.0 L511.1,1915.0 L511.7,1914.7 L512.6,1913.5 L513.0,1913.2 L513.3,1913.4 L514.1,1914.8 L514.6,1915.3 L516.9,1916.1 L520.5,1917.9 L525.7,1919.7 L529.9,1920.9 L532.0,1921.2 L534.0,1921.4 L536.0,1921.3 L537.9,1920.9 L543.8,1919.2 L551.8,1917.9 L557.1,1917.5 L561.0,1917.4 L570.1,1917.6 L600.0,1918.8 L697.3,1922.0" fill="none" stroke="#000" stroke-width="1.75" stroke-linejoin="round" clip-path="url(#c7)"/>
<path d="M24.70,1936.30V1712.90H697.30V1936.30M24.70,1932.00H697.30" fill="none" stroke="#000" stroke-width="1.9"/>
<text transform="translate(19.70,1924.50) scale(0.9,1)" text-anchor="end" class="ax">0.0</text>
<text transform="translate(19.70,1898.38) scale(0.9,1)" text-anchor="end" class="ax">2.5</text>
<text transform="translate(19.70,1872.25) scale(0.9,1)" text-anchor="end" class="ax">5.0</text>
<text transform="translate(19.70,1846.12) scale(0.9,1)" text-anchor="end" class="ax">7.5</text>
<text transform="translate(19.70,1820.00) scale(0.9,1)" text-anchor="end" class="ax">10.0</text>
<text transform="translate(19.70,1793.88) scale(0.9,1)" text-anchor="end" class="ax">12.5</text>
<text transform="translate(19.70,1767.75) scale(0.9,1)" text-anchor="end" class="ax">15.0</text>
<text transform="translate(19.70,1741.62) scale(0.9,1)" text-anchor="end" class="ax">17.5</text>
<text transform="translate(19.70,1715.50) scale(0.9,1)" text-anchor="end" class="ax">20.0</text>
<path d="M21.90,1927.12H24.70M20.10,1921.90H24.70M21.90,1916.68H24.70M21.90,1911.45H24.70M21.90,1906.23H24.70M21.90,1901.00H24.70M20.10,1895.78H24.70M21.90,1890.55H24.70M21.90,1885.33H24.70M21.90,1880.10H24.70M21.90,1874.88H24.70M20.10,1869.65H24.70M21.90,1864.43H24.70M21.90,1859.20H24.70M21.90,1853.98H24.70M21.90,1848.75H24.70M20.10,1843.53H24.70M21.90,1838.30H24.70M21.90,1833.08H24.70M21.90,1827.85H24.70M21.90,1822.62H24.70M20.10,1817.40H24.70M21.90,1812.18H24.70M21.90,1806.95H24.70M21.90,1801.73H24.70M21.90,1796.50H24.70M20.10,1791.28H24.70M21.90,1786.05H24.70M21.90,1780.83H24.70M21.90,1775.60H24.70M21.90,1770.38H24.70M20.10,1765.15H24.70M21.90,1759.93H24.70M21.90,1754.70H24.70M21.90,1749.48H24.70M21.90,1744.25H24.70M20.10,1739.03H24.70M21.90,1733.80H24.70M21.90,1728.58H24.70M21.90,1723.35H24.70M21.90,1718.12H24.70M20.10,1712.90H24.70" stroke="#000" stroke-width="1.5"/>
<text transform="translate(24.70,1943.20) scale(0.9,1)" text-anchor="middle" class="ax">0.0</text>
<text transform="translate(60.10,1943.20) scale(0.9,1)" text-anchor="middle" class="ax">1.0</text>
<text transform="translate(95.50,1943.20) scale(0.9,1)" text-anchor="middle" class="ax">2.0</text>
<text transform="translate(130.90,1943.20) scale(0.9,1)" text-anchor="middle" class="ax">3.0</text>
<text transform="translate(166.30,1943.20) scale(0.9,1)" text-anchor="middle" class="ax">4.0</text>
<text transform="translate(201.70,1943.20) scale(0.9,1)" text-anchor="middle" class="ax">5.0</text>
<text transform="translate(237.10,1943.20) scale(0.9,1)" text-anchor="middle" class="ax">6.0</text>
<text transform="translate(272.50,1943.20) scale(0.9,1)" text-anchor="middle" class="ax">7.0</text>
<text transform="translate(307.90,1943.20) scale(0.9,1)" text-anchor="middle" class="ax">8.0</text>
<text transform="translate(343.30,1943.20) scale(0.9,1)" text-anchor="middle" class="ax">9.0</text>
<text transform="translate(378.70,1943.20) scale(0.9,1)" text-anchor="middle" class="ax">10.0</text>
<text transform="translate(414.10,1943.20) scale(0.9,1)" text-anchor="middle" class="ax">11.0</text>
<text transform="translate(449.50,1943.20) scale(0.9,1)" text-anchor="middle" class="ax">12.0</text>
<text transform="translate(484.90,1943.20) scale(0.9,1)" text-anchor="middle" class="ax">13.0</text>
<text transform="translate(520.30,1943.20) scale(0.9,1)" text-anchor="middle" class="ax">14.0</text>
<text transform="translate(555.70,1943.20) scale(0.9,1)" text-anchor="middle" class="ax">15.0</text>
<text transform="translate(591.10,1943.20) scale(0.9,1)" text-anchor="middle" class="ax">16.0</text>
<text transform="translate(626.50,1943.20) scale(0.9,1)" text-anchor="middle" class="ax">17.0</text>
<text transform="translate(661.90,1943.20) scale(0.9,1)" text-anchor="middle" class="ax">18.0</text>
<path d="M24.70,1932.00V1936.30M31.78,1932.00V1935.00M38.86,1932.00V1935.00M45.94,1932.00V1935.00M53.02,1932.00V1935.00M60.10,1932.00V1936.30M67.18,1932.00V1935.00M74.26,1932.00V1935.00M81.34,1932.00V1935.00M88.42,1932.00V1935.00M95.50,1932.00V1936.30M102.58,1932.00V1935.00M109.66,1932.00V1935.00M116.74,1932.00V1935.00M123.82,1932.00V1935.00M130.90,1932.00V1936.30M137.98,1932.00V1935.00M145.06,1932.00V1935.00M152.14,1932.00V1935.00M159.22,1932.00V1935.00M166.30,1932.00V1936.30M173.38,1932.00V1935.00M180.46,1932.00V1935.00M187.54,1932.00V1935.00M194.62,1932.00V1935.00M201.70,1932.00V1936.30M208.78,1932.00V1935.00M215.86,1932.00V1935.00M222.94,1932.00V1935.00M230.02,1932.00V1935.00M237.10,1932.00V1936.30M244.18,1932.00V1935.00M251.26,1932.00V1935.00M258.34,1932.00V1935.00M265.42,1932.00V1935.00M272.50,1932.00V1936.30M279.58,1932.00V1935.00M286.66,1932.00V1935.00M293.74,1932.00V1935.00M300.82,1932.00V1935.00M307.90,1932.00V1936.30M314.98,1932.00V1935.00M322.06,1932.00V1935.00M329.14,1932.00V1935.00M336.22,1932.00V1935.00M343.30,1932.00V1936.30M350.38,1932.00V1935.00M357.46,1932.00V1935.00M364.54,1932.00V1935.00M371.62,1932.00V1935.00M378.70,1932.00V1936.30M385.78,1932.00V1935.00M392.86,1932.00V1935.00M399.94,1932.00V1935.00M407.02,1932.00V1935.00M414.10,1932.00V1936.30M421.18,1932.00V1935.00M428.26,1932.00V1935.00M435.34,1932.00V1935.00M442.42,1932.00V1935.00M449.50,1932.00V1936.30M456.58,1932.00V1935.00M463.66,1932.00V1935.00M470.74,1932.00V1935.00M477.82,1932.00V1935.00M484.90,1932.00V1936.30M491.98,1932.00V1935.00M499.06,1932.00V1935.00M506.14,1932.00V1935.00M513.22,1932.00V1935.00M520.30,1932.00V1936.30M527.38,1932.00V1935.00M534.46,1932.00V1935.00M541.54,1932.00V1935.00M548.62,1932.00V1935.00M555.70,1932.00V1936.30M562.78,1932.00V1935.00M569.86,1932.00V1935.00M576.94,1932.00V1935.00M584.02,1932.00V1935.00M591.10,1932.00V1936.30M598.18,1932.00V1935.00M605.26,1932.00V1935.00M612.34,1932.00V1935.00M619.42,1932.00V1935.00M626.50,1932.00V1936.30M633.58,1932.00V1935.00M640.66,1932.00V1935.00M647.74,1932.00V1935.00M654.82,1932.00V1935.00M661.90,1932.00V1936.30M668.98,1932.00V1935.00M676.06,1932.00V1935.00M683.14,1932.00V1935.00M690.22,1932.00V1935.00M697.30,1932.00V1936.30" stroke="#000" stroke-width="1.4"/>
<text transform="translate(686.30,1943.20) scale(0.9,1)" text-anchor="start" class="ax">min</text>
<text transform="translate(20.50,1711.70) scale(0.9,1)" text-anchor="start" class="ax">mV</text>
<path d="M132.80,1920.59 L147.10,1920.56" fill="none" stroke="#f00" stroke-width="1.9"/>
<path d="M129.90,1923.39L135.70,1923.39L133.40,1919.99L132.20,1919.99Z M131.60,1926.49h2.4v-3.3h-2.4ZM144.20,1917.76L150.00,1917.76L147.70,1921.16L146.50,1921.16Z M145.90,1914.66h2.4v3.3h-2.4Z" fill="#f00"/>
<path d="M166.20,1920.51 L189.90,1920.46" fill="none" stroke="#f00" stroke-width="1.9"/>
<path d="M163.30,1923.31L169.10,1923.31L166.80,1919.91L165.60,1919.91Z M165.00,1926.41h2.4v-3.3h-2.4ZM187.00,1917.66L192.80,1917.66L190.50,1921.06L189.30,1921.06Z M188.70,1914.56h2.4v3.3h-2.4Z" fill="#f00"/>
<path d="M205.60,1920.42 L218.40,1920.39" fill="none" stroke="#f00" stroke-width="1.9"/>
<path d="M202.70,1923.22L208.50,1923.22L206.20,1919.82L205.00,1919.82Z M204.40,1926.32h2.4v-3.3h-2.4ZM215.50,1917.59L221.30,1917.59L219.00,1920.99L217.80,1920.99Z M217.20,1914.49h2.4v3.3h-2.4Z" fill="#f00"/>
<path d="M228.40,1920.37 L237.00,1920.35" fill="none" stroke="#f00" stroke-width="1.9"/>
<path d="M225.50,1923.17L231.30,1923.17L229.00,1919.77L227.80,1919.77Z M227.20,1926.27h2.4v-3.3h-2.4ZM234.10,1917.55L239.90,1917.55L237.60,1920.95L236.40,1920.95Z M235.80,1914.45h2.4v3.3h-2.4Z" fill="#f00"/>
<path d="M254.40,1920.31 L266.50,1920.28" fill="none" stroke="#f00" stroke-width="1.9"/>
<path d="M251.50,1923.11L257.30,1923.11L255.00,1919.71L253.80,1919.71Z M253.20,1926.21h2.4v-3.3h-2.4ZM263.60,1917.48L269.40,1917.48L267.10,1920.88L265.90,1920.88Z M265.30,1914.38h2.4v3.3h-2.4Z" fill="#f00"/>
<path d="M269.40,1920.27 L281.50,1920.24" fill="none" stroke="#f00" stroke-width="1.9"/>
<path d="M266.50,1923.07L272.30,1923.07L270.00,1919.67L268.80,1919.67Z M268.20,1926.17h2.4v-3.3h-2.4ZM278.60,1917.44L284.40,1917.44L282.10,1920.84L280.90,1920.84Z M280.30,1914.34h2.4v3.3h-2.4Z" fill="#f00"/>
<path d="M284.70,1920.24 L294.90,1920.21 L307.00,1920.23" fill="none" stroke="#f00" stroke-width="1.9"/>
<path d="M281.80,1923.04L287.60,1923.04L285.30,1919.64L284.10,1919.64Z M283.50,1926.14h2.4v-3.3h-2.4ZM292.00,1917.41L297.80,1917.41L295.50,1920.81L294.30,1920.81Z M293.70,1914.31h2.4v3.3h-2.4ZM292.00,1923.01L297.80,1923.01L295.50,1919.61L294.30,1919.61Z M293.70,1926.11h2.4v-3.3h-2.4ZM304.10,1917.43L309.90,1917.43L307.60,1920.83L306.40,1920.83Z M305.80,1914.33h2.4v3.3h-2.4Z" fill="#f00"/>
<path d="M310.60,1920.24 L321.50,1920.29" fill="none" stroke="#f00" stroke-width="1.9"/>
<path d="M307.70,1923.04L313.50,1923.04L311.20,1919.64L310.00,1919.64Z M309.40,1926.14h2.4v-3.3h-2.4ZM318.60,1917.49L324.40,1917.49L322.10,1920.89L320.90,1920.89Z M320.30,1914.39h2.4v3.3h-2.4Z" fill="#f00"/>
<path d="M335.40,1920.35 L348.90,1920.41" fill="none" stroke="#f00" stroke-width="1.9"/>
<path d="M332.50,1923.15L338.30,1923.15L336.00,1919.75L334.80,1919.75Z M334.20,1926.25h2.4v-3.3h-2.4ZM346.00,1917.61L351.80,1917.61L349.50,1921.01L348.30,1921.01Z M347.70,1914.51h2.4v3.3h-2.4Z" fill="#f00"/>
<text transform="translate(143.50,1918.50) rotate(-90)" class="pl">3.161</text>
<text transform="translate(182.70,1918.00) rotate(-90)" class="pl">/4.269</text>
<text transform="translate(219.50,1918.50) rotate(-90)" class="pl">/5.308</text>
<text transform="translate(237.60,1918.50) rotate(-90)" class="pl">/5.819</text>
<text transform="translate(264.80,1912.00) rotate(-90)" class="pl">/6.587</text>
<text transform="translate(282.10,1918.00) rotate(-90)" class="pl">/7.075</text>
<text transform="translate(296.80,1903.80) rotate(-90)" class="pl">/7.492</text>
<text transform="translate(305.90,1912.00) rotate(-90)" class="pl">/7.748</text>
<text transform="translate(322.20,1913.40) rotate(-90)" class="pl">/8.208</text>
<text transform="translate(348.70,1917.00) rotate(-90)" class="pl">/8.957</text>
<text x="342.9" y="1858.8" class="ti" font-size="12" textLength="58.7" lengthAdjust="spacingAndGlyphs">PSMA-1007</text>
<path d="M344.10,1867.30L332.35,1883.69" stroke="#000" stroke-width="2.4"/><path d="M327.10,1891.00L328.87,1879.96L336.99,1885.79Z" fill="#000"/>
<text x="602.3" y="1740.2" class="ti" font-size="13.3" textLength="80.8" lengthAdjust="spacingAndGlyphs">PharMed<tspan font-size="8" dy="-5">®</tspan><tspan dy="5"> BPT</tspan></text>
<path d="M25.5,2190.5 L35.0,2188.6 L40.0,2188.6 L42.8,2189.5 L43.1,1960.0 L51.1,1960.0 L51.3,1983.0 L53.8,2112.7 L54.5,2134.2 L54.9,2140.4 L55.5,2146.1 L57.1,2155.3 L58.5,2160.9 L61.2,2168.9 L62.4,2171.8 L63.6,2174.3 L64.8,2176.3 L65.9,2177.9 L66.7,2178.8 L68.0,2180.0 L70.3,2181.4 L75.0,2183.3 L84.1,2186.0 L87.6,2186.7 L95.0,2187.6 L106.7,2188.2 L120.0,2188.4 L121.3,2188.2 L122.9,2187.5 L123.6,2187.4 L124.3,2187.5 L125.9,2188.2 L126.8,2188.4 L134.1,2188.4 L135.6,2188.1 L137.3,2187.1 L138.0,2186.9 L138.7,2187.1 L140.4,2188.1 L141.9,2188.4 L172.3,2188.2 L173.3,2188.0 L174.0,2187.4 L174.6,2186.4 L175.9,2183.3 L176.2,2182.9 L176.5,2182.8 L176.8,2182.9 L177.2,2183.4 L178.5,2186.3 L179.2,2187.4 L180.0,2188.0 L181.0,2188.2 L207.8,2188.2 L209.2,2187.8 L210.9,2186.5 L211.6,2186.2 L212.3,2186.5 L214.0,2187.8 L214.7,2188.1 L215.5,2188.2 L226.9,2188.1 L228.0,2187.8 L229.6,2186.5 L230.3,2186.2 L231.0,2186.5 L232.6,2187.8 L233.9,2188.2 L253.9,2188.2 L254.7,2188.1 L255.2,2187.9 L255.6,2187.5 L256.0,2186.7 L256.6,2184.6 L257.8,2178.5 L258.1,2177.6 L258.4,2177.2 L258.7,2177.5 L259.1,2178.7 L260.2,2184.0 L260.8,2186.2 L261.4,2187.5 L262.1,2188.0 L263.5,2188.2 L271.7,2188.2 L272.8,2187.9 L274.3,2186.9 L274.9,2186.7 L275.5,2186.9 L277.0,2187.9 L277.9,2188.2 L285.6,2188.2 L286.3,2188.0 L286.8,2187.4 L287.2,2186.2 L287.5,2184.6 L288.1,2178.9 L289.2,2164.1 L289.5,2161.9 L289.7,2161.5 L290.0,2162.2 L290.3,2164.2 L291.6,2179.0 L292.3,2184.6 L292.7,2186.3 L293.1,2187.3 L293.7,2188.0 L294.5,2188.2 L295.3,2188.1 L295.8,2187.9 L296.2,2187.4 L296.6,2186.3 L297.2,2183.4 L298.3,2175.8 L298.6,2174.6 L298.8,2174.4 L299.1,2174.8 L299.4,2176.0 L300.6,2183.7 L301.2,2186.3 L301.6,2187.3 L302.0,2187.8 L302.5,2188.1 L303.3,2188.2 L310.8,2188.2 L312.1,2187.9 L312.6,2187.5 L313.0,2186.9 L314.5,2182.9 L314.8,2182.4 L315.1,2182.2 L315.4,2182.3 L315.7,2182.8 L317.0,2186.1 L317.7,2187.4 L318.5,2188.0 L319.9,2188.2 L333.4,2188.2 L335.0,2188.0 L335.6,2187.7 L336.2,2187.1 L338.0,2183.5 L338.4,2183.0 L338.7,2182.9 L339.0,2183.0 L339.4,2183.5 L340.8,2186.5 L341.6,2187.6 L342.6,2188.1 L344.7,2188.2 L424.8,2188.0 L443.0,2187.8 L455.3,2187.5 L463.3,2187.1 L468.3,2186.6 L475.2,2185.6 L480.0,2185.2 L504.5,2183.5 L513.8,2183.1 L516.6,2183.2 L518.3,2183.5 L519.3,2183.9 L520.7,2184.8 L527.8,2187.1 L532.0,2188.2 L534.0,2188.4 L536.0,2188.3 L538.0,2188.0 L543.9,2186.4 L547.8,2185.6 L550.6,2184.9 L552.5,2184.6 L555.1,2184.4 L558.9,2184.3 L568.4,2184.5 L600.0,2185.8 L697.3,2189.4" fill="none" stroke="#000" stroke-width="1.75" stroke-linejoin="round" clip-path="url(#c8)"/>
<path d="M25.50,2205.00V1982.60H697.30V2205.00M25.50,2200.70H697.30" fill="none" stroke="#000" stroke-width="1.9"/>
<text transform="translate(20.50,2193.30) scale(0.9,1)" text-anchor="end" class="ax">0.0</text>
<text transform="translate(20.50,2167.29) scale(0.9,1)" text-anchor="end" class="ax">2.5</text>
<text transform="translate(20.50,2141.27) scale(0.9,1)" text-anchor="end" class="ax">5.0</text>
<text transform="translate(20.50,2115.26) scale(0.9,1)" text-anchor="end" class="ax">7.5</text>
<text transform="translate(20.50,2089.25) scale(0.9,1)" text-anchor="end" class="ax">10.0</text>
<text transform="translate(20.50,2063.24) scale(0.9,1)" text-anchor="end" class="ax">12.5</text>
<text transform="translate(20.50,2037.22) scale(0.9,1)" text-anchor="end" class="ax">15.0</text>
<text transform="translate(20.50,2011.21) scale(0.9,1)" text-anchor="end" class="ax">17.5</text>
<text transform="translate(20.50,1985.20) scale(0.9,1)" text-anchor="end" class="ax">20.0</text>
<path d="M22.70,2195.90H25.50M20.90,2190.70H25.50M22.70,2185.50H25.50M22.70,2180.29H25.50M22.70,2175.09H25.50M22.70,2169.89H25.50M20.90,2164.69H25.50M22.70,2159.48H25.50M22.70,2154.28H25.50M22.70,2149.08H25.50M22.70,2143.88H25.50M20.90,2138.67H25.50M22.70,2133.47H25.50M22.70,2128.27H25.50M22.70,2123.07H25.50M22.70,2117.86H25.50M20.90,2112.66H25.50M22.70,2107.46H25.50M22.70,2102.26H25.50M22.70,2097.05H25.50M22.70,2091.85H25.50M20.90,2086.65H25.50M22.70,2081.45H25.50M22.70,2076.24H25.50M22.70,2071.04H25.50M22.70,2065.84H25.50M20.90,2060.64H25.50M22.70,2055.43H25.50M22.70,2050.23H25.50M22.70,2045.03H25.50M22.70,2039.83H25.50M20.90,2034.62H25.50M22.70,2029.42H25.50M22.70,2024.22H25.50M22.70,2019.02H25.50M22.70,2013.81H25.50M20.90,2008.61H25.50M22.70,2003.41H25.50M22.70,1998.21H25.50M22.70,1993.00H25.50M22.70,1987.80H25.50M20.90,1982.60H25.50" stroke="#000" stroke-width="1.5"/>
<text transform="translate(25.50,2211.90) scale(0.9,1)" text-anchor="middle" class="ax">0.0</text>
<text transform="translate(60.86,2211.90) scale(0.9,1)" text-anchor="middle" class="ax">1.0</text>
<text transform="translate(96.22,2211.90) scale(0.9,1)" text-anchor="middle" class="ax">2.0</text>
<text transform="translate(131.57,2211.90) scale(0.9,1)" text-anchor="middle" class="ax">3.0</text>
<text transform="translate(166.93,2211.90) scale(0.9,1)" text-anchor="middle" class="ax">4.0</text>
<text transform="translate(202.29,2211.90) scale(0.9,1)" text-anchor="middle" class="ax">5.0</text>
<text transform="translate(237.65,2211.90) scale(0.9,1)" text-anchor="middle" class="ax">6.0</text>
<text transform="translate(273.01,2211.90) scale(0.9,1)" text-anchor="middle" class="ax">7.0</text>
<text transform="translate(308.36,2211.90) scale(0.9,1)" text-anchor="middle" class="ax">8.0</text>
<text transform="translate(343.72,2211.90) scale(0.9,1)" text-anchor="middle" class="ax">9.0</text>
<text transform="translate(379.08,2211.90) scale(0.9,1)" text-anchor="middle" class="ax">10.0</text>
<text transform="translate(414.44,2211.90) scale(0.9,1)" text-anchor="middle" class="ax">11.0</text>
<text transform="translate(449.79,2211.90) scale(0.9,1)" text-anchor="middle" class="ax">12.0</text>
<text transform="translate(485.15,2211.90) scale(0.9,1)" text-anchor="middle" class="ax">13.0</text>
<text transform="translate(520.51,2211.90) scale(0.9,1)" text-anchor="middle" class="ax">14.0</text>
<text transform="translate(555.87,2211.90) scale(0.9,1)" text-anchor="middle" class="ax">15.0</text>
<text transform="translate(591.23,2211.90) scale(0.9,1)" text-anchor="middle" class="ax">16.0</text>
<text transform="translate(626.58,2211.90) scale(0.9,1)" text-anchor="middle" class="ax">17.0</text>
<text transform="translate(661.94,2211.90) scale(0.9,1)" text-anchor="middle" class="ax">18.0</text>
<path d="M25.50,2200.70V2205.00M32.57,2200.70V2203.70M39.64,2200.70V2203.70M46.71,2200.70V2203.70M53.79,2200.70V2203.70M60.86,2200.70V2205.00M67.93,2200.70V2203.70M75.00,2200.70V2203.70M82.07,2200.70V2203.70M89.14,2200.70V2203.70M96.22,2200.70V2205.00M103.29,2200.70V2203.70M110.36,2200.70V2203.70M117.43,2200.70V2203.70M124.50,2200.70V2203.70M131.57,2200.70V2205.00M138.65,2200.70V2203.70M145.72,2200.70V2203.70M152.79,2200.70V2203.70M159.86,2200.70V2203.70M166.93,2200.70V2205.00M174.00,2200.70V2203.70M181.07,2200.70V2203.70M188.15,2200.70V2203.70M195.22,2200.70V2203.70M202.29,2200.70V2205.00M209.36,2200.70V2203.70M216.43,2200.70V2203.70M223.50,2200.70V2203.70M230.58,2200.70V2203.70M237.65,2200.70V2205.00M244.72,2200.70V2203.70M251.79,2200.70V2203.70M258.86,2200.70V2203.70M265.93,2200.70V2203.70M273.01,2200.70V2205.00M280.08,2200.70V2203.70M287.15,2200.70V2203.70M294.22,2200.70V2203.70M301.29,2200.70V2203.70M308.36,2200.70V2205.00M315.43,2200.70V2203.70M322.51,2200.70V2203.70M329.58,2200.70V2203.70M336.65,2200.70V2203.70M343.72,2200.70V2205.00M350.79,2200.70V2203.70M357.86,2200.70V2203.70M364.94,2200.70V2203.70M372.01,2200.70V2203.70M379.08,2200.70V2205.00M386.15,2200.70V2203.70M393.22,2200.70V2203.70M400.29,2200.70V2203.70M407.37,2200.70V2203.70M414.44,2200.70V2205.00M421.51,2200.70V2203.70M428.58,2200.70V2203.70M435.65,2200.70V2203.70M442.72,2200.70V2203.70M449.79,2200.70V2205.00M456.87,2200.70V2203.70M463.94,2200.70V2203.70M471.01,2200.70V2203.70M478.08,2200.70V2203.70M485.15,2200.70V2205.00M492.22,2200.70V2203.70M499.30,2200.70V2203.70M506.37,2200.70V2203.70M513.44,2200.70V2203.70M520.51,2200.70V2205.00M527.58,2200.70V2203.70M534.65,2200.70V2203.70M541.73,2200.70V2203.70M548.80,2200.70V2203.70M555.87,2200.70V2205.00M562.94,2200.70V2203.70M570.01,2200.70V2203.70M577.08,2200.70V2203.70M584.15,2200.70V2203.70M591.23,2200.70V2205.00M598.30,2200.70V2203.70M605.37,2200.70V2203.70M612.44,2200.70V2203.70M619.51,2200.70V2203.70M626.58,2200.70V2205.00M633.66,2200.70V2203.70M640.73,2200.70V2203.70M647.80,2200.70V2203.70M654.87,2200.70V2203.70M661.94,2200.70V2205.00M669.01,2200.70V2203.70M676.09,2200.70V2203.70M683.16,2200.70V2203.70M690.23,2200.70V2203.70M697.30,2200.70V2205.00" stroke="#000" stroke-width="1.4"/>
<text transform="translate(686.30,2211.90) scale(0.9,1)" text-anchor="start" class="ax">min</text>
<text transform="translate(21.30,1981.40) scale(0.9,1)" text-anchor="start" class="ax">mV</text>
<path d="M119.10,2188.37 L130.70,2188.37" fill="none" stroke="#f00" stroke-width="1.9"/>
<path d="M116.20,2191.17L122.00,2191.17L119.70,2187.77L118.50,2187.77Z M117.90,2194.27h2.4v-3.3h-2.4ZM127.80,2185.57L133.60,2185.57L131.30,2188.97L130.10,2188.97Z M129.50,2182.47h2.4v3.3h-2.4Z" fill="#f00"/>
<path d="M133.60,2188.37 L143.30,2188.34" fill="none" stroke="#f00" stroke-width="1.9"/>
<path d="M130.70,2191.17L136.50,2191.17L134.20,2187.77L133.00,2187.77Z M132.40,2194.27h2.4v-3.3h-2.4ZM140.40,2185.54L146.20,2185.54L143.90,2188.94L142.70,2188.94Z M142.10,2182.44h2.4v3.3h-2.4Z" fill="#f00"/>
<path d="M173.70,2188.27 L187.00,2188.23" fill="none" stroke="#f00" stroke-width="1.9"/>
<path d="M170.80,2191.07L176.60,2191.07L174.30,2187.67L173.10,2187.67Z M172.50,2194.17h2.4v-3.3h-2.4ZM184.10,2185.43L189.90,2185.43L187.60,2188.83L186.40,2188.83Z M185.80,2182.33h2.4v3.3h-2.4Z" fill="#f00"/>
<path d="M204.50,2188.20 L221.00,2188.20" fill="none" stroke="#f00" stroke-width="1.9"/>
<path d="M201.60,2191.00L207.40,2191.00L205.10,2187.60L203.90,2187.60Z M203.30,2194.10h2.4v-3.3h-2.4ZM218.10,2185.40L223.90,2185.40L221.60,2188.80L220.40,2188.80Z M219.80,2182.30h2.4v3.3h-2.4Z" fill="#f00"/>
<path d="M225.80,2188.20 L235.50,2188.20" fill="none" stroke="#f00" stroke-width="1.9"/>
<path d="M222.90,2191.00L228.70,2191.00L226.40,2187.60L225.20,2187.60Z M224.60,2194.10h2.4v-3.3h-2.4ZM232.60,2185.40L238.40,2185.40L236.10,2188.80L234.90,2188.80Z M234.30,2182.30h2.4v3.3h-2.4Z" fill="#f00"/>
<path d="M253.30,2188.20 L266.20,2188.20" fill="none" stroke="#f00" stroke-width="1.9"/>
<path d="M250.40,2191.00L256.20,2191.00L253.90,2187.60L252.70,2187.60Z M252.10,2194.10h2.4v-3.3h-2.4ZM263.30,2185.40L269.10,2185.40L266.80,2188.80L265.60,2188.80Z M265.00,2182.30h2.4v3.3h-2.4Z" fill="#f00"/>
<path d="M269.60,2188.20 L281.20,2188.20 L295.30,2188.20 L306.70,2188.18 L321.20,2188.14" fill="none" stroke="#f00" stroke-width="1.9"/>
<path d="M266.70,2191.00L272.50,2191.00L270.20,2187.60L269.00,2187.60Z M268.40,2194.10h2.4v-3.3h-2.4ZM278.30,2185.40L284.10,2185.40L281.80,2188.80L280.60,2188.80Z M280.00,2182.30h2.4v3.3h-2.4ZM278.30,2191.00L284.10,2191.00L281.80,2187.60L280.60,2187.60Z M280.00,2194.10h2.4v-3.3h-2.4ZM292.40,2185.40L298.20,2185.40L295.90,2188.80L294.70,2188.80Z M294.10,2182.30h2.4v3.3h-2.4ZM292.40,2191.00L298.20,2191.00L295.90,2187.60L294.70,2187.60Z M294.10,2194.10h2.4v-3.3h-2.4ZM303.80,2185.38L309.60,2185.38L307.30,2188.78L306.10,2188.78Z M305.50,2182.28h2.4v3.3h-2.4ZM303.80,2190.98L309.60,2190.98L307.30,2187.58L306.10,2187.58Z M305.50,2194.08h2.4v-3.3h-2.4ZM318.30,2185.34L324.10,2185.34L321.80,2188.74L320.60,2188.74Z M320.00,2182.24h2.4v3.3h-2.4Z" fill="#f00"/>
<path d="M332.90,2188.11 L348.60,2188.06" fill="none" stroke="#f00" stroke-width="1.9"/>
<path d="M330.00,2190.91L335.80,2190.91L333.50,2187.51L332.30,2187.51Z M331.70,2194.01h2.4v-3.3h-2.4ZM345.70,2185.26L351.50,2185.26L349.20,2188.66L348.00,2188.66Z M347.40,2182.16h2.4v3.3h-2.4Z" fill="#f00"/>
<text transform="translate(130.50,2186.50) rotate(-90)" class="pl">2.775</text>
<text transform="translate(144.90,2186.00) rotate(-90)" class="pl">3.182</text>
<text transform="translate(183.40,2182.60) rotate(-90)" class="pl">/4.271</text>
<text transform="translate(218.50,2186.00) rotate(-90)" class="pl">/5.264</text>
<text transform="translate(237.20,2186.00) rotate(-90)" class="pl">/5.793</text>
<text transform="translate(265.30,2177.00) rotate(-90)" class="pl">/6.587</text>
<text transform="translate(281.80,2186.00) rotate(-90)" class="pl">/7.052</text>
<text transform="translate(296.60,2161.30) rotate(-90)" class="pl">/7.471</text>
<text transform="translate(305.70,2174.20) rotate(-90)" class="pl">/7.728</text>
<text transform="translate(322.00,2181.80) rotate(-90)" class="pl">/8.189</text>
<text transform="translate(345.60,2182.60) rotate(-90)" class="pl">/8.857</text>
<text x="340.6" y="2125.2" class="ti" font-size="12" textLength="58.2" lengthAdjust="spacingAndGlyphs">PSMA-1007</text>
<path d="M342.30,2133.60L330.21,2150.13" stroke="#000" stroke-width="2.4"/><path d="M324.90,2157.40L326.77,2146.38L334.84,2152.28Z" fill="#000"/>
<text x="528.9" y="2008.7" class="ti" font-size="13.3" textLength="155.5" lengthAdjust="spacingAndGlyphs">Silicone + TFA salt precursor</text>
<path d="M22.7,2459.2 L40.8,2459.2 L41.0,2230.0 L49.3,2230.0 L49.5,2250.0 L52.1,2353.1 L52.9,2376.3 L53.6,2389.0 L54.3,2398.0 L56.0,2411.9 L57.2,2420.2 L58.8,2429.3 L59.9,2433.8 L60.7,2436.1 L61.7,2438.4 L64.7,2444.1 L65.7,2445.6 L66.7,2446.8 L69.0,2448.9 L73.9,2452.1 L76.2,2453.3 L77.8,2453.9 L80.1,2454.5 L83.6,2455.1 L88.0,2455.5 L92.9,2455.8 L105.5,2456.1 L132.2,2456.6 L133.7,2456.4 L135.4,2455.4 L136.1,2455.2 L136.8,2455.5 L138.5,2456.5 L139.9,2456.8 L169.8,2457.6 L171.0,2457.5 L171.8,2457.1 L172.5,2456.4 L173.8,2454.5 L174.4,2454.2 L174.7,2454.3 L175.1,2454.6 L176.4,2456.4 L177.1,2457.2 L177.9,2457.6 L179.1,2457.7 L206.7,2458.1 L207.5,2458.0 L208.2,2457.8 L209.9,2456.4 L210.6,2456.2 L211.3,2456.4 L212.9,2457.7 L214.0,2458.1 L224.6,2458.1 L225.6,2458.0 L226.3,2457.7 L226.9,2457.3 L228.2,2455.9 L228.8,2455.6 L229.5,2455.9 L231.1,2457.6 L231.7,2457.9 L232.4,2458.0 L251.7,2458.0 L252.4,2457.9 L252.9,2457.6 L253.3,2457.1 L253.7,2456.2 L254.3,2453.8 L255.5,2446.5 L255.8,2445.4 L256.1,2445.0 L256.4,2445.3 L256.8,2446.7 L257.9,2453.0 L258.5,2455.6 L259.1,2457.1 L259.8,2457.8 L261.2,2458.0 L270.0,2458.0 L271.1,2457.7 L272.6,2456.7 L273.2,2456.5 L273.8,2456.7 L275.3,2457.7 L276.2,2458.0 L284.3,2458.1 L285.0,2457.9 L285.5,2457.6 L285.9,2456.9 L286.2,2456.0 L286.8,2453.0 L287.9,2444.7 L288.2,2443.3 L288.5,2442.8 L288.8,2443.2 L289.2,2444.9 L290.3,2452.3 L290.9,2455.3 L291.6,2457.2 L292.0,2457.7 L292.5,2458.0 L293.4,2458.1 L294.3,2458.1 L294.8,2457.8 L295.2,2457.4 L295.9,2455.7 L297.1,2451.0 L297.4,2450.3 L297.6,2450.2 L297.9,2450.4 L298.2,2451.1 L299.3,2455.3 L299.8,2456.7 L300.4,2457.7 L301.2,2458.1 L309.5,2458.3 L310.4,2458.2 L311.0,2458.1 L311.5,2457.7 L312.0,2456.9 L313.5,2452.7 L313.8,2452.2 L314.1,2452.0 L314.4,2452.2 L314.8,2452.9 L316.4,2457.0 L317.0,2457.8 L317.6,2458.2 L319.2,2458.3 L333.4,2458.4 L334.2,2458.3 L334.8,2457.7 L335.2,2456.7 L335.6,2455.1 L336.3,2449.9 L337.6,2436.0 L337.9,2434.2 L338.2,2433.5 L338.4,2433.7 L338.6,2434.3 L339.0,2436.5 L340.6,2450.4 L341.4,2455.2 L341.9,2456.8 L342.5,2457.9 L343.2,2458.4 L344.2,2458.5 L382.7,2458.8 L400.0,2458.8 L412.3,2458.6 L421.1,2458.4 L437.3,2457.3 L443.0,2457.1 L472.9,2456.8 L480.3,2456.6 L481.0,2456.4 L481.5,2456.1 L482.2,2455.0 L482.8,2452.8 L484.0,2447.0 L484.3,2446.1 L484.6,2445.7 L485.0,2446.0 L485.4,2447.0 L486.7,2452.1 L487.3,2453.9 L488.0,2455.1 L488.8,2455.7 L490.1,2455.8 L498.8,2455.5 L499.6,2455.2 L500.6,2454.2 L501.0,2454.0 L501.4,2454.2 L502.4,2455.2 L503.1,2455.4 L510.3,2455.5 L511.1,2455.2 L512.1,2454.2 L512.5,2454.0 L512.9,2454.2 L513.9,2455.4 L514.4,2455.7 L516.8,2456.4 L518.6,2457.3 L528.8,2461.3 L531.0,2462.0 L533.1,2462.4 L534.9,2462.5 L536.7,2462.3 L544.2,2460.3 L545.5,2459.5 L546.6,2459.1 L548.8,2458.9 L552.4,2458.8 L557.9,2458.9 L589.7,2460.3 L597.5,2460.4 L604.8,2460.3 L619.1,2459.9 L640.0,2458.8 L667.5,2456.9 L679.0,2456.3 L688.0,2456.3 L699.5,2457.0" fill="none" stroke="#000" stroke-width="1.75" stroke-linejoin="round" clip-path="url(#c9)"/>
<path d="M22.70,2474.30V2250.00H699.50V2474.30M22.70,2470.00H699.50" fill="none" stroke="#000" stroke-width="1.9"/>
<text transform="translate(17.70,2461.90) scale(0.9,1)" text-anchor="end" class="ax">0.0</text>
<text transform="translate(17.70,2435.74) scale(0.9,1)" text-anchor="end" class="ax">2.5</text>
<text transform="translate(17.70,2409.58) scale(0.9,1)" text-anchor="end" class="ax">5.0</text>
<text transform="translate(17.70,2383.41) scale(0.9,1)" text-anchor="end" class="ax">7.5</text>
<text transform="translate(17.70,2357.25) scale(0.9,1)" text-anchor="end" class="ax">10.0</text>
<text transform="translate(17.70,2331.09) scale(0.9,1)" text-anchor="end" class="ax">12.5</text>
<text transform="translate(17.70,2304.92) scale(0.9,1)" text-anchor="end" class="ax">15.0</text>
<text transform="translate(17.70,2278.76) scale(0.9,1)" text-anchor="end" class="ax">17.5</text>
<text transform="translate(17.70,2252.60) scale(0.9,1)" text-anchor="end" class="ax">20.0</text>
<path d="M19.90,2469.77H22.70M19.90,2464.53H22.70M18.10,2459.30H22.70M19.90,2454.07H22.70M19.90,2448.84H22.70M19.90,2443.60H22.70M19.90,2438.37H22.70M18.10,2433.14H22.70M19.90,2427.91H22.70M19.90,2422.67H22.70M19.90,2417.44H22.70M19.90,2412.21H22.70M18.10,2406.98H22.70M19.90,2401.74H22.70M19.90,2396.51H22.70M19.90,2391.28H22.70M19.90,2386.05H22.70M18.10,2380.81H22.70M19.90,2375.58H22.70M19.90,2370.35H22.70M19.90,2365.12H22.70M19.90,2359.88H22.70M18.10,2354.65H22.70M19.90,2349.42H22.70M19.90,2344.18H22.70M19.90,2338.95H22.70M19.90,2333.72H22.70M18.10,2328.49H22.70M19.90,2323.26H22.70M19.90,2318.02H22.70M19.90,2312.79H22.70M19.90,2307.56H22.70M18.10,2302.32H22.70M19.90,2297.09H22.70M19.90,2291.86H22.70M19.90,2286.63H22.70M19.90,2281.39H22.70M18.10,2276.16H22.70M19.90,2270.93H22.70M19.90,2265.70H22.70M19.90,2260.47H22.70M19.90,2255.23H22.70M18.10,2250.00H22.70" stroke="#000" stroke-width="1.5"/>
<text transform="translate(22.70,2481.20) scale(0.9,1)" text-anchor="middle" class="ax">0.0</text>
<text transform="translate(58.32,2481.20) scale(0.9,1)" text-anchor="middle" class="ax">1.0</text>
<text transform="translate(93.94,2481.20) scale(0.9,1)" text-anchor="middle" class="ax">2.0</text>
<text transform="translate(129.56,2481.20) scale(0.9,1)" text-anchor="middle" class="ax">3.0</text>
<text transform="translate(165.18,2481.20) scale(0.9,1)" text-anchor="middle" class="ax">4.0</text>
<text transform="translate(200.81,2481.20) scale(0.9,1)" text-anchor="middle" class="ax">5.0</text>
<text transform="translate(236.43,2481.20) scale(0.9,1)" text-anchor="middle" class="ax">6.0</text>
<text transform="translate(272.05,2481.20) scale(0.9,1)" text-anchor="middle" class="ax">7.0</text>
<text transform="translate(307.67,2481.20) scale(0.9,1)" text-anchor="middle" class="ax">8.0</text>
<text transform="translate(343.29,2481.20) scale(0.9,1)" text-anchor="middle" class="ax">9.0</text>
<text transform="translate(378.91,2481.20) scale(0.9,1)" text-anchor="middle" class="ax">10.0</text>
<text transform="translate(414.53,2481.20) scale(0.9,1)" text-anchor="middle" class="ax">11.0</text>
<text transform="translate(450.15,2481.20) scale(0.9,1)" text-anchor="middle" class="ax">12.0</text>
<text transform="translate(485.77,2481.20) scale(0.9,1)" text-anchor="middle" class="ax">13.0</text>
<text transform="translate(521.39,2481.20) scale(0.9,1)" text-anchor="middle" class="ax">14.0</text>
<text transform="translate(557.02,2481.20) scale(0.9,1)" text-anchor="middle" class="ax">15.0</text>
<text transform="translate(592.64,2481.20) scale(0.9,1)" text-anchor="middle" class="ax">16.0</text>
<text transform="translate(628.26,2481.20) scale(0.9,1)" text-anchor="middle" class="ax">17.0</text>
<text transform="translate(663.88,2481.20) scale(0.9,1)" text-anchor="middle" class="ax">18.0</text>
<path d="M22.70,2470.00V2474.30M29.82,2470.00V2473.00M36.95,2470.00V2473.00M44.07,2470.00V2473.00M51.20,2470.00V2473.00M58.32,2470.00V2474.30M65.45,2470.00V2473.00M72.57,2470.00V2473.00M79.69,2470.00V2473.00M86.82,2470.00V2473.00M93.94,2470.00V2474.30M101.07,2470.00V2473.00M108.19,2470.00V2473.00M115.31,2470.00V2473.00M122.44,2470.00V2473.00M129.56,2470.00V2474.30M136.69,2470.00V2473.00M143.81,2470.00V2473.00M150.94,2470.00V2473.00M158.06,2470.00V2473.00M165.18,2470.00V2474.30M172.31,2470.00V2473.00M179.43,2470.00V2473.00M186.56,2470.00V2473.00M193.68,2470.00V2473.00M200.81,2470.00V2474.30M207.93,2470.00V2473.00M215.05,2470.00V2473.00M222.18,2470.00V2473.00M229.30,2470.00V2473.00M236.43,2470.00V2474.30M243.55,2470.00V2473.00M250.67,2470.00V2473.00M257.80,2470.00V2473.00M264.92,2470.00V2473.00M272.05,2470.00V2474.30M279.17,2470.00V2473.00M286.30,2470.00V2473.00M293.42,2470.00V2473.00M300.54,2470.00V2473.00M307.67,2470.00V2474.30M314.79,2470.00V2473.00M321.92,2470.00V2473.00M329.04,2470.00V2473.00M336.17,2470.00V2473.00M343.29,2470.00V2474.30M350.41,2470.00V2473.00M357.54,2470.00V2473.00M364.66,2470.00V2473.00M371.79,2470.00V2473.00M378.91,2470.00V2474.30M386.03,2470.00V2473.00M393.16,2470.00V2473.00M400.28,2470.00V2473.00M407.41,2470.00V2473.00M414.53,2470.00V2474.30M421.66,2470.00V2473.00M428.78,2470.00V2473.00M435.90,2470.00V2473.00M443.03,2470.00V2473.00M450.15,2470.00V2474.30M457.28,2470.00V2473.00M464.40,2470.00V2473.00M471.53,2470.00V2473.00M478.65,2470.00V2473.00M485.77,2470.00V2474.30M492.90,2470.00V2473.00M500.02,2470.00V2473.00M507.15,2470.00V2473.00M514.27,2470.00V2473.00M521.39,2470.00V2474.30M528.52,2470.00V2473.00M535.64,2470.00V2473.00M542.77,2470.00V2473.00M549.89,2470.00V2473.00M557.02,2470.00V2474.30M564.14,2470.00V2473.00M571.26,2470.00V2473.00M578.39,2470.00V2473.00M585.51,2470.00V2473.00M592.64,2470.00V2474.30M599.76,2470.00V2473.00M606.89,2470.00V2473.00M614.01,2470.00V2473.00M621.13,2470.00V2473.00M628.26,2470.00V2474.30M635.38,2470.00V2473.00M642.51,2470.00V2473.00M649.63,2470.00V2473.00M656.75,2470.00V2473.00M663.88,2470.00V2474.30M671.00,2470.00V2473.00M678.13,2470.00V2473.00M685.25,2470.00V2473.00M692.38,2470.00V2473.00M699.50,2470.00V2474.30" stroke="#000" stroke-width="1.4"/>
<text transform="translate(688.50,2481.20) scale(0.9,1)" text-anchor="start" class="ax">min</text>
<text transform="translate(18.50,2248.80) scale(0.9,1)" text-anchor="start" class="ax">mV</text>
<path d="M128.60,2456.60 L142.40,2456.87" fill="none" stroke="#f00" stroke-width="1.9"/>
<path d="M125.70,2459.40L131.50,2459.40L129.20,2456.00L128.00,2456.00Z M127.40,2462.50h2.4v-3.3h-2.4ZM139.50,2454.07L145.30,2454.07L143.00,2457.47L141.80,2457.47Z M141.20,2450.97h2.4v3.3h-2.4Z" fill="#f00"/>
<path d="M170.80,2457.47 L184.40,2457.77" fill="none" stroke="#f00" stroke-width="1.9"/>
<path d="M167.90,2460.27L173.70,2460.27L171.40,2456.87L170.20,2456.87Z M169.60,2463.37h2.4v-3.3h-2.4ZM181.50,2454.97L187.30,2454.97L185.00,2458.37L183.80,2458.37Z M183.20,2451.87h2.4v3.3h-2.4Z" fill="#f00"/>
<path d="M207.90,2458.09 L220.00,2458.07" fill="none" stroke="#f00" stroke-width="1.9"/>
<path d="M205.00,2460.89L210.80,2460.89L208.50,2457.49L207.30,2457.49Z M206.70,2463.99h2.4v-3.3h-2.4ZM217.10,2455.27L222.90,2455.27L220.60,2458.67L219.40,2458.67Z M218.80,2452.17h2.4v3.3h-2.4Z" fill="#f00"/>
<path d="M224.90,2458.06 L234.60,2458.05" fill="none" stroke="#f00" stroke-width="1.9"/>
<path d="M222.00,2460.86L227.80,2460.86L225.50,2457.46L224.30,2457.46Z M223.70,2463.96h2.4v-3.3h-2.4ZM231.70,2455.25L237.50,2455.25L235.20,2458.65L234.00,2458.65Z M233.40,2452.15h2.4v3.3h-2.4Z" fill="#f00"/>
<path d="M252.60,2458.02 L265.00,2458.01 L278.30,2458.05" fill="none" stroke="#f00" stroke-width="1.9"/>
<path d="M249.70,2460.82L255.50,2460.82L253.20,2457.42L252.00,2457.42Z M251.40,2463.92h2.4v-3.3h-2.4ZM262.10,2455.21L267.90,2455.21L265.60,2458.61L264.40,2458.61Z M263.80,2452.11h2.4v3.3h-2.4ZM262.10,2460.81L267.90,2460.81L265.60,2457.41L264.40,2457.41Z M263.80,2463.91h2.4v-3.3h-2.4ZM275.40,2455.25L281.20,2455.25L278.90,2458.65L277.70,2458.65Z M277.10,2452.15h2.4v3.3h-2.4Z" fill="#f00"/>
<path d="M283.20,2458.08 L293.80,2458.15 L303.50,2458.21" fill="none" stroke="#f00" stroke-width="1.9"/>
<path d="M280.30,2460.88L286.10,2460.88L283.80,2457.48L282.60,2457.48Z M282.00,2463.98h2.4v-3.3h-2.4ZM290.90,2455.35L296.70,2455.35L294.40,2458.75L293.20,2458.75Z M292.60,2452.25h2.4v3.3h-2.4ZM290.90,2460.95L296.70,2460.95L294.40,2457.55L293.20,2457.55Z M292.60,2464.05h2.4v-3.3h-2.4ZM300.60,2455.41L306.40,2455.41L304.10,2458.81L302.90,2458.81Z M302.30,2452.31h2.4v3.3h-2.4Z" fill="#f00"/>
<path d="M310.30,2458.25 L320.00,2458.31" fill="none" stroke="#f00" stroke-width="1.9"/>
<path d="M307.40,2461.05L313.20,2461.05L310.90,2457.65L309.70,2457.65Z M309.10,2464.15h2.4v-3.3h-2.4ZM317.10,2455.51L322.90,2455.51L320.60,2458.91L319.40,2458.91Z M318.80,2452.41h2.4v3.3h-2.4Z" fill="#f00"/>
<path d="M331.70,2458.38 L351.00,2458.50" fill="none" stroke="#f00" stroke-width="1.9"/>
<path d="M328.80,2461.18L334.60,2461.18L332.30,2457.78L331.10,2457.78Z M330.50,2464.28h2.4v-3.3h-2.4ZM348.10,2455.70L353.90,2455.70L351.60,2459.10L350.40,2459.10Z M349.80,2452.60h2.4v3.3h-2.4Z" fill="#f00"/>
<text transform="translate(143.00,2455.00) rotate(-90)" class="pl">/3.183</text>
<text transform="translate(181.30,2454.50) rotate(-90)" class="pl">/4.259</text>
<text transform="translate(217.50,2455.50) rotate(-90)" class="pl">/5.275</text>
<text transform="translate(235.70,2455.00) rotate(-90)" class="pl">/5.787</text>
<text transform="translate(263.00,2445.30) rotate(-90)" class="pl">/6.552</text>
<text transform="translate(280.10,2456.00) rotate(-90)" class="pl">/7.032</text>
<text transform="translate(295.40,2443.00) rotate(-90)" class="pl">/7.462</text>
<text transform="translate(304.50,2450.20) rotate(-90)" class="pl">/7.718</text>
<text transform="translate(321.00,2452.00) rotate(-90)" class="pl">/8.182</text>
<text transform="translate(345.10,2433.40) rotate(-90)" class="pl">/8.857</text>
<text x="337.0" y="2393.8" class="ti" font-size="12" textLength="57.7" lengthAdjust="spacingAndGlyphs">PSMA-1007</text>
<path d="M338.20,2402.60L326.48,2418.81" stroke="#000" stroke-width="2.4"/><path d="M321.20,2426.10L323.01,2415.07L331.11,2420.93Z" fill="#000"/>
<text x="528.9" y="2275.9" class="ti" font-size="13.3" textLength="157.7" lengthAdjust="spacingAndGlyphs">Silicone + ACE salt precursor</text>
</svg></body></html>
